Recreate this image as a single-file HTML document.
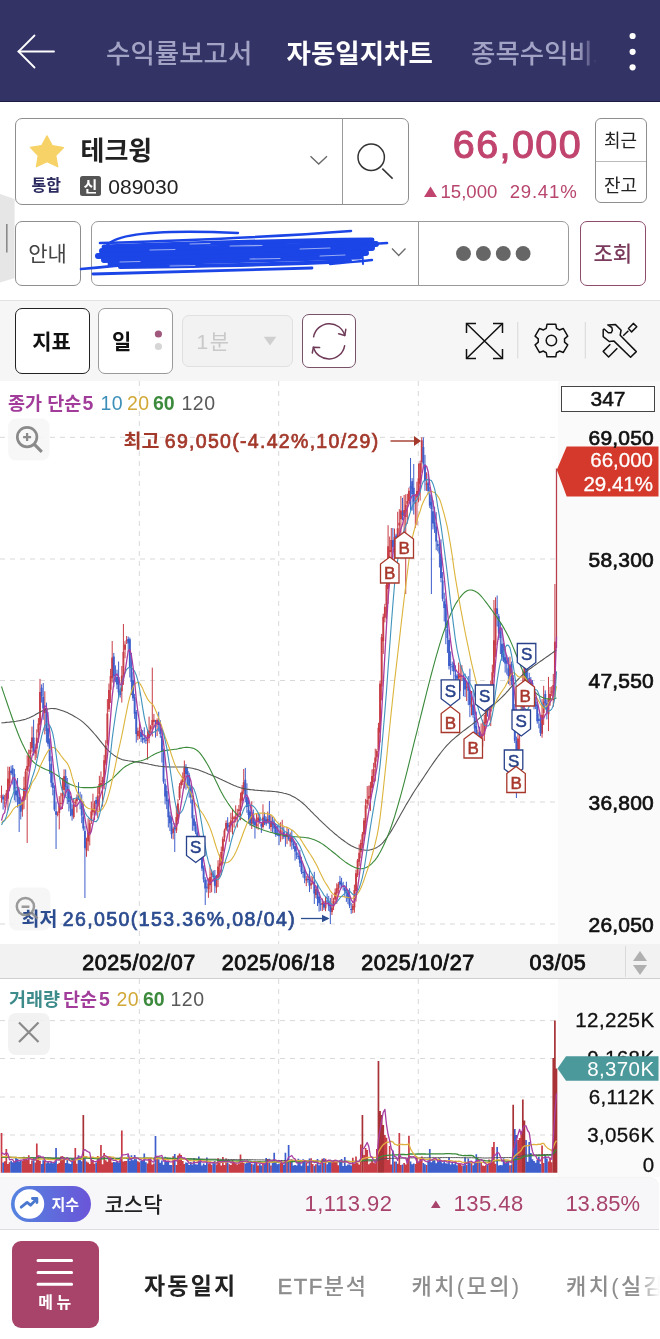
<!DOCTYPE html>
<html lang="ko"><head><meta charset="utf-8"><style>
*{margin:0;padding:0;box-sizing:border-box}
html,body{width:660px;height:1339px;overflow:hidden;background:#fff}
body{position:relative;font-family:"Liberation Sans","Noto Sans CJK KR",sans-serif;color:#222}
.a{position:absolute;white-space:nowrap;line-height:1}
.box{position:absolute;border:1.5px solid #8e8e8e;border-radius:7px;background:#fff}
svg{position:absolute;left:0;top:0;overflow:visible}
</style></head><body>
<div class="a" style="left:0;top:0;width:660px;height:102px;background:#333366;border-bottom:1.5px solid #1c1c40"></div>
<svg width="660" height="102"><g stroke="#fff" stroke-width="1.8" fill="none" stroke-linecap="round"><path d="M18.5 51.5H54"/><path d="M34.5 35.5L18.5 51.5L34.5 67.5"/></g><circle cx="632.6" cy="36" r="3.1" fill="#fff"/><circle cx="632.6" cy="51.8" r="3.1" fill="#fff"/><circle cx="632.6" cy="67.3" r="3.1" fill="#fff"/></svg>
<div class="a" style="left:106px;top:41.0px;font-size:26.5px;height:26.5px;color:#a3a3c6;font-weight:500;">수익률보고서</div>
<div class="a" style="left:286.5px;top:41.0px;font-size:26.5px;height:26.5px;color:#fff;font-weight:700;">자동일지차트</div>
<div class="a" style="left:471px;top:36px;width:126px;height:34px;overflow:hidden;-webkit-mask-image:linear-gradient(90deg,#000 85%,transparent 100%);"><div class="a" style="left:0;top:5.3px;font-size:26.5px;color:#a3a3c6;font-weight:500;">종목수익비교</div></div>
<div class="box" style="left:14.5px;top:117.5px;width:394px;height:87px;"></div>
<div class="a" style="left:342px;top:118px;width:1.2px;height:86px;background:#9a9a9a"></div>
<svg width="660" height="300"><path d="M47 135.8 L52.2 145.6 L63.6 147.6 L55.8 155.6 L57.8 166.8 L47 161.8 L36.4 166.8 L38.2 155.6 L30.3 147.4 L41.7 145.6 Z" fill="#f7d267" stroke="#f7d267" stroke-width="1.2" stroke-linejoin="round"/><path d="M310.5 156.3L318.7 164L327 156.3" stroke="#6a6a6a" stroke-width="1.4" fill="none"/><circle cx="371.2" cy="157.3" r="13.2" stroke="#333" stroke-width="1.5" fill="none"/><path d="M382.3 168.6L392.6 178.6" stroke="#333" stroke-width="1.5"/></svg>
<div class="a" style="left:31.5px;top:177.5px;font-size:16px;height:16px;color:#2b2b60;font-weight:700;">통합</div>
<div class="a" style="left:80.5px;top:137.5px;font-size:26px;height:26px;color:#222;font-weight:700;">테크윙</div>
<div class="a" style="left:80.3px;top:175.5px;width:20.5px;height:20.8px;background:#555;border-radius:2.5px"></div>
<div class="a" style="left:-109.5px;width:400px;text-align:center;top:178.5px;font-size:15px;height:15px;color:#fff;font-weight:700;">신</div>
<div class="a" style="left:108.3px;top:175.8px;font-size:21px;height:21px;color:#222;font-weight:400;">089030</div>
<div class="a" style="right:78px;top:124.8px;font-size:39.5px;height:39.5px;color:#c0446e;font-weight:400;letter-spacing:1.4px;-webkit-text-stroke:1.1px #c0446e;">66,000</div>
<svg width="660" height="300"><path d="M424 197L430.5 186.5L437 197Z" fill="#c0446e"/></svg>
<div class="a" style="left:440.5px;top:183.2px;font-size:18.6px;height:18.6px;color:#b8456e;font-weight:400;">15,000</div>
<div class="a" style="right:82.5px;top:183.2px;font-size:18.6px;height:18.6px;color:#b8456e;font-weight:400;letter-spacing:0.8px;">29.41%</div>
<div class="box" style="left:595px;top:118px;width:51.5px;height:84.5px;border-width:1.3px;border-radius:6px"></div>
<div class="a" style="left:596px;top:160.5px;width:49.5px;height:1.2px;background:#bbb"></div>
<div class="a" style="left:420.5px;width:400px;text-align:center;top:132.0px;font-size:18px;height:18px;color:#222;font-weight:400;">최근</div>
<div class="a" style="left:420.5px;width:400px;text-align:center;top:176.5px;font-size:18px;height:18px;color:#222;font-weight:400;">잔고</div>
<svg width="660" height="300"><path d="M0 194L14.6 199V278L0 282.6Z" fill="#e6e6e6"/><path d="M6.8 224V252.5" stroke="#8a8a8a" stroke-width="1.6"/></svg>
<div class="box" style="left:14.5px;top:220.5px;width:66px;height:65px;"></div>
<div class="a" style="left:-152.5px;width:400px;text-align:center;top:242.5px;font-size:21px;height:21px;color:#444;font-weight:400;">안내</div>
<div class="box" style="left:91px;top:220.5px;width:477.5px;height:65px;border-color:#9a9a9a"></div>
<div class="a" style="left:417.5px;top:221px;width:1.3px;height:64px;background:#9a9a9a"></div>
<svg width="660" height="300"><path d="M392 248.5L398.7 255.5L405.5 248.5" stroke="#6a6a6a" stroke-width="1.3" fill="none"/><g fill="#666"><circle cx="463.5" cy="253.5" r="7.4"/><circle cx="483.4" cy="253.5" r="7.4"/><circle cx="503.3" cy="253.5" r="7.4"/><circle cx="523.1" cy="253.5" r="7.4"/></g></svg>
<div class="box" style="left:580px;top:220.5px;width:65.5px;height:65px;border-color:#8c4d6c"></div>
<div class="a" style="left:412.79999999999995px;width:400px;text-align:center;top:242.5px;font-size:21px;height:21px;color:#7a3a5c;font-weight:500;">조회</div>
<svg width="660" height="300"><g stroke="#1b45e6" fill="none" stroke-linecap="round" stroke-linejoin="round">
<path d="M106 247 C112 235 150 229 238 233" stroke-width="2.4"/>
<path d="M100 243 C200 240 300 235 351 231" stroke-width="2.6"/>
<path d="M104 247 C180 244 280 241 372 240" stroke-width="5"/>
<path d="M102 251 C190 249 290 246 376 244" stroke-width="6"/>
<path d="M98 256 C190 253 290 250 372 248" stroke-width="6"/>
<path d="M104 260 C190 258 290 255 366 253" stroke-width="6"/>
<path d="M110 264 C200 262 290 259 360 257" stroke-width="5"/>
<path d="M120 267 C200 266 290 264 350 261" stroke-width="4"/>
<path d="M81 269 C150 262 250 257 345 253" stroke-width="2.6"/>
<path d="M93 274 C180 272 260 270 312 268" stroke-width="2.8"/>
<path d="M330 264 C350 262 365 261 372 260" stroke-width="2.4"/>
<path d="M340 246 L387 243" stroke-width="2.6"/>
<path d="M362 244 L363 264" stroke-width="2"/>
</g>
<g stroke="#ffffff" stroke-opacity="0.55" fill="none" stroke-linecap="round" stroke-width="1.1">
<path d="M150 250 L175 249.5"/><path d="M230 246 L262 245.5"/><path d="M300 249 L330 248"/>
<path d="M120 262 L140 261.5"/><path d="M250 259 L280 258.5"/><path d="M190 244 L210 243.5"/>
<path d="M320 256 L345 255"/><path d="M170 266 L195 265.5"/>
</g></svg>
<div class="a" style="left:0;top:299.5px;width:660px;height:81px;background:#f6f6f6;border-top:1.2px solid #e2e2e2"></div>
<div class="box" style="left:14.5px;top:307.5px;width:75px;height:66px;border-color:#222;border-width:1.6px"></div>
<div class="a" style="left:-148.5px;width:400px;text-align:center;top:330.5px;font-size:21px;height:21px;color:#111;font-weight:700;">지표</div>
<div class="box" style="left:98px;top:307.5px;width:74.5px;height:66px;border-color:#9a9a9a"></div>
<div class="a" style="left:112px;top:330.5px;font-size:21px;height:21px;color:#111;font-weight:700;">일</div>
<svg width="660" height="400"><circle cx="158.4" cy="334" r="3.6" fill="#a0587c"/><circle cx="158.4" cy="346.5" r="3.6" fill="#d6d6d6"/></svg>
<div class="box" style="left:182px;top:314.5px;width:110.5px;height:52.5px;border-color:#e0e0e0;background:#f2f2f2;border-width:1.2px"></div>
<div class="a" style="left:196.5px;top:330.5px;font-size:21px;height:21px;color:#c9c9c9;font-weight:400;letter-spacing:1.5px;">1분</div>
<svg width="660" height="400"><path d="M263.7 336.8H276.3L270 345.4Z" fill="#cfcfcf"/></svg>
<div class="box" style="left:302px;top:313.5px;width:54px;height:54px;border-color:#775168"></div>
<svg width="660" height="400"><g stroke="#6e3a58" stroke-width="1.5" fill="none" stroke-linecap="round" stroke-linejoin="round"><path d="M313.6 336.8 A16 16 0 0 1 344.8 335.5"/><path d="M345.8 329.3 L344.8 335.5 L338.6 333.8"/><path d="M344.6 345.8 A16 16 0 0 1 313.4 347.2"/><path d="M312.3 353 L313.4 347.2 L319.6 347.6"/></g></svg>
<svg width="660" height="400"><g stroke="#111" stroke-width="1.5" fill="none"><path d="M466.5 323.5L502.5 358.5M502.5 323.5L466.5 358.5"/><path d="M466.5 333V323.5H476M493 323.5H502.5V333M502.5 349V358.5H493M476 358.5H466.5V349"/></g><path d="M517.7 322V358.5M585.3 322V358.5" stroke="#dcdcdc" stroke-width="1.2"/></svg>
<svg width="660" height="400"><path d="M546.24 328.35L547.03 324.18L555.77 324.18L556.56 328.35A13.2 13.2 0 0 1 559.34 329.96L563.35 328.55L567.72 336.13L564.50 338.89A13.2 13.2 0 0 1 564.50 342.11L567.72 344.87L563.35 352.45L559.34 351.04A13.2 13.2 0 0 1 556.56 352.65L555.77 356.82L547.03 356.82L546.24 352.65A13.2 13.2 0 0 1 543.46 351.04L539.45 352.45L535.08 344.87L538.30 342.11A13.2 13.2 0 0 1 538.30 338.89L535.08 336.13L539.45 328.55L543.46 329.96A13.2 13.2 0 0 1 546.24 328.35Z" stroke="#111" stroke-width="1.5" fill="none" stroke-linejoin="round"/><circle cx="551.4" cy="340.5" r="5.2" stroke="#111" stroke-width="1.5" fill="none"/></svg>
<svg width="660" height="400"><g stroke="#111" stroke-width="1.5" fill="none" stroke-linejoin="round"><path d="M607.8 324.9 L615.5 324.6 L621.1 330.2 L620.2 335.2 L636.3 351.6 L630.6 357.3 L614 341.1 L609.2 341.5 L603.2 336.6 L603.2 329.8 L604.1 329 L608.3 332.7 L611.3 332.7 L612.4 330.3 L611.8 327.5 Z"/><path d="M610.3 344.2 L603.2 351.4 L608.6 357 L617.3 348.2"/><path d="M623.2 335.8 L628.4 330.8"/><path d="M628.5 328.5 L633.3 323.4 L636.8 326.8 L631.6 331.9 Z"/></g></svg>
<div class="a" style="left:558px;top:380.5px;width:102px;height:564px;background:#fafafa"></div>
<div class="a" style="left:558px;top:979px;width:102px;height:198px;background:#fafafa"></div>
<div class="a" style="left:0;top:944px;width:660px;height:35px;background:#f2f2f2;border-bottom:1.3px solid #d0d0d0"></div>
<div class="a" style="left:625px;top:946px;width:1px;height:31px;background:#dadada"></div>
<svg width="660" height="1339">
<path d="M0 437.3H558M0 559H558M0 680.5H558M0 802H558M0 924H558M0 1020.6H558M0 1058.5H558M0 1097H558M0 1135H558M139.3 381V944M139.3 979V1173M278.7 381V944M278.7 979V1173M418.3 381V944M418.3 979V1173" stroke="#d9d9d9" stroke-width="1" stroke-dasharray="5 5" fill="none"/>
<path d="M1.52 785.6V802.7M4.72 794.9V807.5M6.33 789.9V802.8M7.93 766.6V810.6M9.54 766.8V791.0M22.37 796.4V816.7M23.97 776.7V808.9M25.58 768.7V799.7M27.18 755.2V843.0M28.78 749.6V771.7M30.39 742.0V764.0M31.99 726.5V752.3M35.20 743.7V760.2M36.80 729.3V758.0M38.41 718.1V742.7M40.01 678.9V730.0M44.82 691.3V734.4M57.66 811.4V816.4M59.26 796.2V829.4M60.86 792.8V809.7M62.47 778.0V809.0M64.07 769.3V798.3M73.70 798.6V818.8M75.30 799.3V806.9M76.90 794.5V812.6M86.53 837.7V856.8M88.13 818.3V851.1M89.74 819.5V845.5M91.34 801.6V824.0M92.94 793.7V815.5M94.55 800.8V820.2M97.76 786.7V818.2M99.36 775.8V811.2M100.96 771.4V788.5M102.57 776.8V806.6M104.17 754.9V789.2M105.78 740.2V765.2M107.38 699.1V745.4M108.98 683.5V712.0M110.59 668.8V702.9M112.19 641.0V682.5M121.82 666.0V702.6M123.42 624.0V684.9M125.02 641.1V658.2M126.63 636.0V644.0M137.86 727.6V740.2M139.46 721.6V738.8M147.48 729.8V759.7M149.08 716.6V743.2M150.69 724.8V733.0M152.29 667.6V736.5M153.90 713.9V727.5M157.10 718.3V736.1M173.14 826.5V839.3M176.35 806.1V833.0M177.96 799.3V824.0M179.56 783.1V800.0M181.16 779.6V788.6M182.77 772.4V785.0M184.37 760.5V788.3M208.43 878.3V897.8M210.04 864.7V893.1M211.64 869.6V892.3M216.45 874.9V892.9M218.06 860.2V887.0M219.66 854.5V877.4M221.26 846.6V875.2M222.87 836.6V864.4M224.47 828.6V841.7M226.08 820.4V831.0M229.28 822.2V841.8M230.89 812.8V832.2M232.49 809.0V834.5M234.10 815.8V827.6M235.70 805.3V822.4M237.30 808.8V827.5M238.91 805.0V817.4M240.51 792.6V820.2M242.12 785.0V803.4M243.72 769.0V794.3M251.74 801.4V829.0M256.55 813.2V828.5M258.16 813.1V829.7M262.97 804.3V828.6M267.78 811.5V823.3M270.99 815.2V831.3M280.61 822.2V841.8M282.22 819.8V839.4M287.03 826.9V844.1M290.24 832.5V846.6M306.28 875.8V886.2M311.09 875.7V889.2M312.69 876.8V884.4M315.90 885.1V898.1M322.32 898.5V911.1M325.52 897.0V911.2M331.94 894.5V915.1M333.54 897.8V910.1M335.15 888.5V903.0M336.75 883.3V903.9M338.36 882.0V895.0M352.79 903.8V913.2M354.40 884.6V912.7M356.00 869.8V901.6M357.60 858.9V877.1M359.21 844.5V866.2M360.81 839.6V858.3M362.42 831.9V848.6M364.02 818.0V841.0M365.62 798.9V834.1M367.23 786.1V808.7M368.83 785.6V805.6M370.44 781.8V810.9M372.04 769.4V792.2M373.64 762.8V782.1M375.25 748.7V781.4M376.85 749.2V761.7M378.46 722.8V751.7M380.06 680.7V742.3M381.66 633.9V700.4M383.27 613.7V653.9M384.87 603.8V622.4M386.48 575.6V619.2M388.08 525.2V603.8M389.68 536.5V557.5M391.29 528.0V559.3M394.50 528.6V567.9M397.70 511.8V553.5M399.31 509.2V538.2M400.91 496.0V542.3M404.12 494.9V533.7M405.72 494.3V594.0M407.33 493.8V523.7M408.93 487.7V503.8M415.35 493.9V527.9M416.95 481.7V525.2M418.56 463.5V502.3M420.16 460.6V500.6M421.76 437.3V472.8M426.58 472.3V490.9M458.66 662.6V695.8M460.26 665.0V691.2M461.86 665.1V681.1M466.68 681.4V701.0M471.49 691.0V715.4M477.90 729.7V737.6M481.11 723.4V753.1M482.72 719.7V746.5M484.32 714.9V741.0M485.92 705.3V728.5M489.13 702.3V720.4M490.74 680.8V726.1M492.34 664.6V687.7M493.94 600.0V677.6M495.55 597.3V657.2M509.98 656.6V685.7M518.00 732.6V757.4M519.61 710.9V749.4M521.21 691.3V731.8M522.82 670.9V722.6M524.42 657.7V695.4M542.06 699.0V737.7M543.67 685.8V725.0M548.48 676.9V731.1M550.08 687.0V705.7M551.69 686.3V696.1M553.29 673.9V706.8M554.90 584.0V697.0" stroke="#c83c46" stroke-width="1.0" fill="none"/>
<path d="M0.57 795.1h1.9V798.1h-1.9ZM3.77 802.4h1.9V803.4h-1.9ZM5.38 793.2h1.9V800.9h-1.9ZM6.98 778.8h1.9V798.7h-1.9ZM8.59 771.0h1.9V783.1h-1.9ZM21.42 799.8h1.9V810.1h-1.9ZM23.02 787.7h1.9V801.1h-1.9ZM24.63 771.5h1.9V789.9h-1.9ZM26.23 766.1h1.9V770.4h-1.9ZM27.83 755.5h1.9V766.7h-1.9ZM29.44 750.0h1.9V754.0h-1.9ZM31.04 737.4h1.9V748.2h-1.9ZM34.25 750.0h1.9V753.4h-1.9ZM35.85 737.7h1.9V748.6h-1.9ZM37.46 723.4h1.9V732.2h-1.9ZM39.06 691.9h1.9V725.0h-1.9ZM43.87 708.1h1.9V713.0h-1.9ZM56.71 813.5h1.9V814.7h-1.9ZM58.31 805.6h1.9V812.9h-1.9ZM59.91 802.9h1.9V803.9h-1.9ZM61.52 793.2h1.9V796.6h-1.9ZM63.12 776.2h1.9V789.9h-1.9ZM72.75 805.0h1.9V816.9h-1.9ZM74.35 801.7h1.9V803.2h-1.9ZM75.95 797.8h1.9V801.2h-1.9ZM85.58 841.7h1.9V850.2h-1.9ZM87.18 832.2h1.9V841.6h-1.9ZM88.79 823.2h1.9V833.6h-1.9ZM90.39 811.4h1.9V820.5h-1.9ZM91.99 808.8h1.9V812.3h-1.9ZM93.60 803.3h1.9V809.1h-1.9ZM96.81 795.4h1.9V806.5h-1.9ZM98.41 784.1h1.9V793.9h-1.9ZM100.01 783.1h1.9V785.5h-1.9ZM101.62 780.2h1.9V782.2h-1.9ZM103.22 760.3h1.9V782.4h-1.9ZM104.83 745.6h1.9V763.3h-1.9ZM106.43 713.4h1.9V743.5h-1.9ZM108.03 690.1h1.9V709.3h-1.9ZM109.64 675.9h1.9V689.7h-1.9ZM111.24 657.6h1.9V678.3h-1.9ZM120.87 675.8h1.9V691.3h-1.9ZM122.47 652.0h1.9V676.6h-1.9ZM124.07 644.4h1.9V649.8h-1.9ZM125.68 640.1h1.9V641.1h-1.9ZM136.91 730.9h1.9V736.2h-1.9ZM138.51 730.4h1.9V731.4h-1.9ZM146.53 736.9h1.9V740.7h-1.9ZM148.13 730.5h1.9V737.7h-1.9ZM149.74 726.3h1.9V729.5h-1.9ZM151.34 720.1h1.9V725.3h-1.9ZM152.95 719.7h1.9V722.1h-1.9ZM156.15 720.0h1.9V724.6h-1.9ZM172.19 828.6h1.9V833.0h-1.9ZM175.40 817.0h1.9V830.5h-1.9ZM177.01 803.6h1.9V820.8h-1.9ZM178.61 786.3h1.9V797.8h-1.9ZM180.21 781.4h1.9V785.6h-1.9ZM181.82 776.9h1.9V782.1h-1.9ZM183.42 767.9h1.9V776.9h-1.9ZM207.48 883.5h1.9V889.0h-1.9ZM209.09 876.9h1.9V885.3h-1.9ZM210.69 873.1h1.9V875.1h-1.9ZM215.50 876.4h1.9V887.5h-1.9ZM217.11 866.6h1.9V877.8h-1.9ZM218.71 863.6h1.9V866.3h-1.9ZM220.31 852.1h1.9V865.2h-1.9ZM221.92 838.7h1.9V851.3h-1.9ZM223.52 830.4h1.9V837.6h-1.9ZM225.13 823.1h1.9V829.4h-1.9ZM228.33 825.0h1.9V827.0h-1.9ZM229.94 820.4h1.9V825.3h-1.9ZM231.54 817.2h1.9V819.3h-1.9ZM233.15 817.5h1.9V818.7h-1.9ZM234.75 816.8h1.9V819.5h-1.9ZM236.35 813.8h1.9V815.9h-1.9ZM237.96 809.4h1.9V811.0h-1.9ZM239.56 798.4h1.9V810.8h-1.9ZM241.17 791.6h1.9V800.7h-1.9ZM242.77 782.3h1.9V791.2h-1.9ZM250.79 815.0h1.9V824.1h-1.9ZM255.60 824.0h1.9V826.3h-1.9ZM257.21 817.6h1.9V821.5h-1.9ZM262.02 817.6h1.9V827.0h-1.9ZM266.83 818.7h1.9V821.3h-1.9ZM270.04 820.9h1.9V827.1h-1.9ZM279.66 830.5h1.9V833.9h-1.9ZM281.27 833.4h1.9V834.4h-1.9ZM286.08 832.2h1.9V836.9h-1.9ZM289.29 837.4h1.9V841.5h-1.9ZM305.33 878.8h1.9V880.5h-1.9ZM310.14 883.2h1.9V885.3h-1.9ZM311.74 881.9h1.9V882.9h-1.9ZM314.95 888.9h1.9V894.9h-1.9ZM321.37 903.1h1.9V904.5h-1.9ZM324.57 900.9h1.9V908.2h-1.9ZM330.99 907.6h1.9V911.9h-1.9ZM332.59 901.0h1.9V906.4h-1.9ZM334.20 892.6h1.9V899.4h-1.9ZM335.80 888.3h1.9V893.5h-1.9ZM337.41 884.2h1.9V889.2h-1.9ZM351.84 906.1h1.9V909.9h-1.9ZM353.45 889.9h1.9V907.4h-1.9ZM355.05 873.3h1.9V891.0h-1.9ZM356.65 860.6h1.9V874.9h-1.9ZM358.26 852.8h1.9V861.7h-1.9ZM359.86 842.9h1.9V852.2h-1.9ZM361.47 834.2h1.9V844.3h-1.9ZM363.07 820.5h1.9V834.4h-1.9ZM364.67 805.3h1.9V823.1h-1.9ZM366.28 799.9h1.9V803.8h-1.9ZM367.88 796.0h1.9V798.8h-1.9ZM369.49 785.4h1.9V797.3h-1.9ZM371.09 776.0h1.9V788.1h-1.9ZM372.69 769.0h1.9V776.3h-1.9ZM374.30 757.4h1.9V767.4h-1.9ZM375.90 751.0h1.9V757.2h-1.9ZM377.51 727.7h1.9V749.7h-1.9ZM379.11 683.8h1.9V732.8h-1.9ZM380.71 637.3h1.9V686.5h-1.9ZM382.32 616.8h1.9V641.2h-1.9ZM383.92 606.7h1.9V617.8h-1.9ZM385.53 585.1h1.9V604.9h-1.9ZM387.13 546.3h1.9V589.1h-1.9ZM388.73 550.1h1.9V552.1h-1.9ZM390.34 540.0h1.9V552.2h-1.9ZM393.55 536.9h1.9V550.8h-1.9ZM396.75 528.2h1.9V547.9h-1.9ZM398.36 522.8h1.9V525.6h-1.9ZM399.96 510.4h1.9V519.3h-1.9ZM403.17 509.9h1.9V516.1h-1.9ZM404.77 504.8h1.9V517.1h-1.9ZM406.38 501.0h1.9V503.8h-1.9ZM407.98 490.7h1.9V501.1h-1.9ZM414.40 502.1h1.9V503.4h-1.9ZM416.00 491.1h1.9V497.5h-1.9ZM417.61 478.2h1.9V495.6h-1.9ZM419.21 463.2h1.9V484.0h-1.9ZM420.81 440.3h1.9V462.0h-1.9ZM425.63 483.5h1.9V485.0h-1.9ZM457.71 673.7h1.9V678.5h-1.9ZM459.31 676.0h1.9V677.0h-1.9ZM460.91 675.6h1.9V676.6h-1.9ZM465.73 686.4h1.9V687.9h-1.9ZM470.54 704.3h1.9V707.3h-1.9ZM476.95 732.8h1.9V733.8h-1.9ZM480.16 734.6h1.9V742.5h-1.9ZM481.77 734.4h1.9V735.5h-1.9ZM483.37 721.8h1.9V734.4h-1.9ZM484.97 707.1h1.9V723.3h-1.9ZM488.18 708.0h1.9V710.3h-1.9ZM489.79 687.8h1.9V711.4h-1.9ZM491.39 672.2h1.9V686.1h-1.9ZM492.99 640.3h1.9V672.8h-1.9ZM494.60 608.0h1.9V645.3h-1.9ZM509.03 664.7h1.9V676.8h-1.9ZM517.05 738.6h1.9V755.6h-1.9ZM518.66 723.1h1.9V735.0h-1.9ZM520.26 709.2h1.9V720.3h-1.9ZM521.87 683.9h1.9V709.8h-1.9ZM523.47 667.1h1.9V684.7h-1.9ZM541.11 714.7h1.9V733.7h-1.9ZM542.72 701.7h1.9V713.1h-1.9ZM547.53 698.4h1.9V714.2h-1.9ZM549.13 694.0h1.9V701.3h-1.9ZM550.74 691.4h1.9V692.4h-1.9ZM552.34 685.0h1.9V700.0h-1.9ZM553.95 641.7h1.9V690.0h-1.9Z" fill="#c83c46"/>
<path d="M3.12 794.4V809.6M11.14 765.6V775.1M12.74 765.1V784.5M14.35 769.0V800.4M15.95 781.4V802.3M17.56 778.0V807.7M19.16 789.1V832.0M20.76 798.6V819.5M33.60 719.7V755.5M41.62 684.4V702.6M43.22 683.0V719.8M46.43 702.6V742.6M48.03 712.1V746.6M49.64 738.3V773.8M51.24 756.1V787.2M52.84 772.9V795.4M54.45 785.3V811.2M56.05 801.5V849.0M65.68 769.4V796.3M67.28 778.0V804.2M68.88 784.0V811.4M70.49 795.8V816.3M72.09 804.1V820.7M78.51 782.2V799.9M80.11 791.8V809.3M81.72 794.4V823.2M83.32 801.4V830.7M84.92 826.1V898.0M96.15 796.9V815.5M113.80 652.9V687.3M115.40 665.4V682.2M117.00 669.7V689.1M118.61 661.5V698.0M120.21 688.7V697.6M128.23 636.6V651.7M129.84 637.6V677.5M131.44 653.0V695.1M133.04 672.1V701.0M134.65 693.9V718.9M136.25 710.0V742.6M141.06 729.7V742.1M142.67 730.1V743.3M144.27 727.3V742.7M145.88 735.0V743.9M155.50 719.9V737.6M158.71 711.7V731.5M160.31 720.2V737.8M161.92 731.4V762.5M163.52 748.7V783.7M165.12 778.8V804.4M166.73 785.4V809.1M168.33 798.5V827.5M169.94 811.5V831.1M171.54 816.6V838.6M174.75 823.1V852.0M185.98 764.1V789.6M187.58 767.9V788.2M189.18 772.8V797.7M190.79 784.7V803.4M192.39 795.0V830.8M194.00 815.0V830.7M195.60 821.5V834.2M197.20 826.4V846.7M198.81 837.6V855.5M200.41 845.3V859.8M202.02 851.9V871.1M203.62 865.5V882.5M205.22 877.2V905.0M206.83 879.6V892.5M213.24 870.5V881.6M214.85 870.0V893.2M227.68 817.2V831.7M245.32 767.9V802.3M246.93 783.3V812.8M248.53 797.7V823.0M250.14 805.7V825.9M253.34 809.5V825.8M254.95 818.5V838.6M259.76 813.9V823.8M261.36 822.2V832.9M264.57 812.3V825.1M266.18 816.6V825.7M269.38 801.0V828.9M272.59 816.7V832.6M274.20 818.6V833.7M275.80 823.5V836.9M277.40 825.6V835.9M279.01 823.4V845.1M283.82 827.0V838.9M285.42 834.0V846.7M288.63 829.0V840.7M291.84 829.7V849.6M293.44 839.7V848.9M295.05 841.6V860.6M296.65 843.2V859.0M298.26 852.5V859.5M299.86 849.8V867.0M301.46 856.8V874.1M303.07 864.4V877.6M304.67 866.8V883.2M307.88 873.8V882.7M309.48 868.0V892.1M314.30 871.8V904.0M317.50 883.6V906.0M319.11 891.9V911.6M320.71 898.8V910.8M323.92 901.2V909.9M327.13 893.5V903.5M328.73 895.9V910.9M330.34 898.0V924.0M339.96 875.9V887.9M341.56 877.8V887.2M343.17 881.8V890.4M344.77 885.1V896.9M346.38 881.7V901.9M347.98 889.7V904.1M349.58 888.2V908.1M351.19 902.8V913.8M392.89 528.0V568.6M396.10 533.7V558.4M402.52 497.8V520.2M410.54 458.0V510.7M412.14 478.1V510.6M413.74 464.0V514.5M423.37 437.3V466.9M424.97 454.9V490.8M428.18 474.0V494.5M429.78 487.0V507.9M431.39 495.9V594.0M432.99 500.4V529.4M434.60 506.8V532.9M436.20 512.1V550.2M437.80 540.4V551.4M439.41 537.5V567.5M441.01 539.3V582.3M442.62 572.1V601.3M444.22 592.7V621.5M445.82 598.6V644.2M447.43 620.6V652.9M449.03 638.0V669.5M450.64 651.4V674.8M452.24 661.6V671.2M453.84 659.0V679.6M455.45 665.4V692.3M457.05 673.6V682.1M463.47 674.3V696.2M465.07 673.6V697.1M468.28 676.0V705.2M469.88 668.7V717.1M473.09 690.4V717.7M474.70 704.7V743.1M476.30 711.6V742.9M479.51 726.8V750.1M487.53 700.6V716.6M497.15 595.5V626.5M498.76 613.9V639.9M500.36 622.9V654.0M501.96 627.6V661.0M503.57 642.8V662.2M505.17 648.3V672.6M506.78 655.2V674.5M508.38 657.3V684.1M511.59 661.5V685.4M513.19 675.0V725.7M514.80 703.9V743.0M516.40 736.6V798.0M526.02 656.1V689.7M527.63 666.6V689.9M529.23 672.8V686.4M530.84 677.0V695.8M532.44 680.2V698.9M534.04 686.9V709.3M535.65 696.9V709.2M537.25 701.7V723.7M538.86 713.5V728.3M540.46 715.0V736.1M545.27 690.4V706.3M546.88 699.6V719.4" stroke="#3d5ecb" stroke-width="1.0" fill="none"/>
<path d="M2.17 796.6h1.9V799.4h-1.9ZM10.19 770.6h1.9V773.0h-1.9ZM11.79 768.2h1.9V774.2h-1.9ZM13.40 774.1h1.9V790.4h-1.9ZM15.00 790.6h1.9V795.3h-1.9ZM16.61 790.7h1.9V797.0h-1.9ZM18.21 797.1h1.9V804.0h-1.9ZM19.81 803.6h1.9V811.7h-1.9ZM32.65 737.6h1.9V752.2h-1.9ZM40.67 687.8h1.9V696.6h-1.9ZM42.27 696.9h1.9V708.6h-1.9ZM45.48 708.0h1.9V730.9h-1.9ZM47.08 728.2h1.9V743.8h-1.9ZM48.69 740.6h1.9V761.2h-1.9ZM50.29 763.7h1.9V782.7h-1.9ZM51.89 782.7h1.9V788.3h-1.9ZM53.50 789.4h1.9V809.4h-1.9ZM55.10 811.2h1.9V814.8h-1.9ZM64.73 776.1h1.9V786.9h-1.9ZM66.33 786.5h1.9V790.4h-1.9ZM67.93 791.2h1.9V801.7h-1.9ZM69.54 801.5h1.9V808.5h-1.9ZM71.14 808.8h1.9V815.4h-1.9ZM77.56 794.6h1.9V797.2h-1.9ZM79.16 799.1h1.9V801.4h-1.9ZM80.77 801.5h1.9V815.6h-1.9ZM82.37 816.5h1.9V828.4h-1.9ZM83.97 831.0h1.9V848.3h-1.9ZM95.20 800.1h1.9V803.8h-1.9ZM112.85 656.6h1.9V676.4h-1.9ZM114.45 674.7h1.9V675.7h-1.9ZM116.05 677.1h1.9V684.5h-1.9ZM117.66 677.1h1.9V692.4h-1.9ZM119.26 690.7h1.9V695.1h-1.9ZM127.28 639.1h1.9V643.3h-1.9ZM128.89 639.2h1.9V667.7h-1.9ZM130.49 667.7h1.9V682.1h-1.9ZM132.09 680.3h1.9V698.3h-1.9ZM133.70 697.3h1.9V713.8h-1.9ZM135.30 712.1h1.9V734.0h-1.9ZM140.11 731.7h1.9V737.1h-1.9ZM141.72 738.3h1.9V739.9h-1.9ZM143.32 737.9h1.9V738.9h-1.9ZM144.93 739.8h1.9V740.8h-1.9ZM154.55 725.1h1.9V726.7h-1.9ZM157.76 721.3h1.9V724.9h-1.9ZM159.36 724.1h1.9V734.1h-1.9ZM160.97 735.9h1.9V751.6h-1.9ZM162.57 752.5h1.9V781.6h-1.9ZM164.17 783.7h1.9V796.6h-1.9ZM165.78 791.1h1.9V801.3h-1.9ZM167.38 800.1h1.9V817.3h-1.9ZM168.99 815.5h1.9V823.3h-1.9ZM170.59 823.1h1.9V834.3h-1.9ZM173.80 827.4h1.9V829.3h-1.9ZM185.03 767.2h1.9V773.9h-1.9ZM186.63 771.0h1.9V777.1h-1.9ZM188.23 775.1h1.9V785.7h-1.9ZM189.84 787.1h1.9V797.3h-1.9ZM191.44 799.4h1.9V818.3h-1.9ZM193.05 818.5h1.9V825.8h-1.9ZM194.65 824.3h1.9V832.1h-1.9ZM196.25 832.3h1.9V843.7h-1.9ZM197.86 843.3h1.9V850.2h-1.9ZM199.46 851.1h1.9V857.5h-1.9ZM201.07 857.7h1.9V868.6h-1.9ZM202.67 867.7h1.9V879.3h-1.9ZM204.27 879.6h1.9V888.5h-1.9ZM205.88 886.8h1.9V887.8h-1.9ZM212.29 873.7h1.9V877.1h-1.9ZM213.90 875.7h1.9V885.8h-1.9ZM226.73 822.9h1.9V827.6h-1.9ZM244.37 779.7h1.9V796.6h-1.9ZM245.98 797.1h1.9V807.1h-1.9ZM247.58 810.0h1.9V815.1h-1.9ZM249.19 811.5h1.9V823.2h-1.9ZM252.39 814.4h1.9V823.2h-1.9ZM254.00 821.6h1.9V825.3h-1.9ZM258.81 818.2h1.9V821.6h-1.9ZM260.41 824.0h1.9V826.6h-1.9ZM263.62 816.0h1.9V822.6h-1.9ZM265.23 819.3h1.9V823.7h-1.9ZM268.43 815.3h1.9V824.1h-1.9ZM271.64 820.4h1.9V824.7h-1.9ZM273.25 822.8h1.9V828.5h-1.9ZM274.85 826.1h1.9V835.1h-1.9ZM276.45 833.2h1.9V834.2h-1.9ZM278.06 833.4h1.9V836.2h-1.9ZM282.87 832.0h1.9V837.0h-1.9ZM284.47 835.6h1.9V836.6h-1.9ZM287.68 834.8h1.9V839.1h-1.9ZM290.89 836.5h1.9V842.6h-1.9ZM292.49 843.0h1.9V845.6h-1.9ZM294.10 845.9h1.9V851.5h-1.9ZM295.70 852.4h1.9V855.3h-1.9ZM297.31 855.7h1.9V857.1h-1.9ZM298.91 855.6h1.9V863.3h-1.9ZM300.51 861.3h1.9V871.7h-1.9ZM302.12 872.0h1.9V873.0h-1.9ZM303.72 870.6h1.9V878.4h-1.9ZM306.93 878.9h1.9V879.9h-1.9ZM308.53 877.3h1.9V885.7h-1.9ZM313.35 881.7h1.9V893.6h-1.9ZM316.55 886.9h1.9V899.1h-1.9ZM318.16 896.4h1.9V903.3h-1.9ZM319.76 903.7h1.9V904.7h-1.9ZM322.97 903.4h1.9V907.5h-1.9ZM326.18 900.6h1.9V901.6h-1.9ZM327.78 902.0h1.9V906.2h-1.9ZM329.39 905.0h1.9V911.8h-1.9ZM339.01 881.3h1.9V884.6h-1.9ZM340.61 883.0h1.9V885.5h-1.9ZM342.22 885.9h1.9V886.9h-1.9ZM343.82 888.0h1.9V891.2h-1.9ZM345.43 890.2h1.9V892.8h-1.9ZM347.03 892.5h1.9V898.5h-1.9ZM348.63 896.5h1.9V905.6h-1.9ZM350.24 909.0h1.9V910.0h-1.9ZM391.94 539.9h1.9V547.0h-1.9ZM395.15 535.5h1.9V545.2h-1.9ZM401.57 512.5h1.9V514.8h-1.9ZM409.59 486.3h1.9V488.3h-1.9ZM411.19 481.2h1.9V494.3h-1.9ZM412.79 487.7h1.9V501.7h-1.9ZM422.42 446.9h1.9V463.6h-1.9ZM424.02 464.5h1.9V480.6h-1.9ZM427.23 482.6h1.9V491.0h-1.9ZM428.83 494.6h1.9V505.5h-1.9ZM430.44 502.0h1.9V509.0h-1.9ZM432.04 511.3h1.9V523.6h-1.9ZM433.65 522.0h1.9V527.3h-1.9ZM435.25 526.8h1.9V541.6h-1.9ZM436.85 543.9h1.9V546.2h-1.9ZM438.46 546.8h1.9V553.6h-1.9ZM440.06 553.4h1.9V578.1h-1.9ZM441.67 580.4h1.9V598.7h-1.9ZM443.27 601.2h1.9V608.1h-1.9ZM444.87 603.9h1.9V627.9h-1.9ZM446.48 629.5h1.9V638.1h-1.9ZM448.08 640.0h1.9V666.1h-1.9ZM449.69 664.0h1.9V665.2h-1.9ZM451.29 666.2h1.9V667.2h-1.9ZM452.89 663.1h1.9V671.5h-1.9ZM454.50 675.4h1.9V676.4h-1.9ZM456.10 675.5h1.9V678.7h-1.9ZM462.52 677.2h1.9V680.9h-1.9ZM464.12 678.1h1.9V689.4h-1.9ZM467.33 682.7h1.9V690.8h-1.9ZM468.93 690.2h1.9V704.7h-1.9ZM472.14 704.8h1.9V714.9h-1.9ZM473.75 717.1h1.9V728.4h-1.9ZM475.35 726.0h1.9V735.6h-1.9ZM478.56 731.7h1.9V741.2h-1.9ZM486.58 706.8h1.9V710.3h-1.9ZM496.20 608.4h1.9V614.1h-1.9ZM497.81 616.2h1.9V633.4h-1.9ZM499.41 631.6h1.9V638.1h-1.9ZM501.01 643.8h1.9V656.9h-1.9ZM502.62 650.6h1.9V660.4h-1.9ZM504.22 657.3h1.9V663.5h-1.9ZM505.83 660.6h1.9V663.8h-1.9ZM507.43 668.3h1.9V675.9h-1.9ZM510.64 664.0h1.9V681.0h-1.9ZM512.24 677.8h1.9V714.2h-1.9ZM513.85 715.1h1.9V740.7h-1.9ZM515.45 741.0h1.9V757.2h-1.9ZM525.07 667.3h1.9V681.6h-1.9ZM526.68 681.2h1.9V682.7h-1.9ZM528.28 678.0h1.9V682.0h-1.9ZM529.89 682.1h1.9V685.5h-1.9ZM531.49 682.8h1.9V695.6h-1.9ZM533.09 695.7h1.9V700.3h-1.9ZM534.70 701.5h1.9V706.2h-1.9ZM536.30 704.6h1.9V721.3h-1.9ZM537.91 718.8h1.9V721.1h-1.9ZM539.51 723.5h1.9V732.9h-1.9ZM544.32 694.0h1.9V703.2h-1.9ZM545.93 703.0h1.9V712.5h-1.9Z" fill="#3d5ecb"/>
<path d="M556.50 468.5V648.0" stroke="#b4404e" stroke-width="1.3"/>
<path d="M1.5 722.9 L3.1 722.7 L4.7 722.6 L6.3 722.4 L7.9 722.2 L9.5 722.1 L11.1 721.9 L12.7 721.8 L14.3 721.5 L16.0 721.3 L17.6 721.0 L19.2 720.7 L20.8 720.4 L22.4 720.0 L24.0 719.6 L25.6 719.2 L27.2 718.6 L28.8 718.0 L30.4 717.3 L32.0 716.5 L33.6 715.7 L35.2 714.8 L36.8 713.8 L38.4 712.9 L40.0 712.1 L41.6 711.3 L43.2 710.6 L44.8 710.0 L46.4 709.4 L48.0 709.0 L49.6 708.7 L51.2 708.5 L52.8 708.5 L54.4 708.6 L56.1 708.8 L57.7 709.2 L59.3 709.7 L60.9 710.2 L62.5 710.7 L64.1 711.3 L65.7 711.9 L67.3 712.6 L68.9 713.4 L70.5 714.2 L72.1 715.1 L73.7 716.0 L75.3 716.9 L76.9 717.9 L78.5 718.9 L80.1 719.9 L81.7 721.1 L83.3 722.4 L84.9 723.8 L86.5 725.3 L88.1 726.9 L89.7 728.6 L91.3 730.4 L92.9 732.2 L94.5 734.0 L96.2 735.9 L97.8 737.9 L99.4 739.9 L101.0 741.9 L102.6 743.9 L104.2 745.9 L105.8 747.8 L107.4 749.5 L109.0 751.1 L110.6 752.6 L112.2 753.9 L113.8 755.1 L115.4 756.2 L117.0 757.2 L118.6 758.1 L120.2 758.8 L121.8 759.4 L123.4 759.9 L125.0 760.2 L126.6 760.5 L128.2 760.8 L129.8 761.0 L131.4 761.2 L133.0 761.4 L134.6 761.7 L136.3 761.9 L137.9 762.1 L139.5 762.3 L141.1 762.6 L142.7 762.9 L144.3 763.2 L145.9 763.5 L147.5 763.8 L149.1 764.2 L150.7 764.5 L152.3 764.9 L153.9 765.2 L155.5 765.6 L157.1 765.8 L158.7 766.1 L160.3 766.3 L161.9 766.5 L163.5 766.6 L165.1 766.8 L166.7 766.9 L168.3 766.9 L169.9 767.0 L171.5 767.0 L173.1 767.0 L174.7 767.0 L176.4 767.0 L178.0 767.0 L179.6 767.0 L181.2 767.0 L182.8 767.0 L184.4 767.1 L186.0 767.3 L187.6 767.5 L189.2 767.7 L190.8 768.0 L192.4 768.3 L194.0 768.7 L195.6 769.1 L197.2 769.6 L198.8 770.1 L200.4 770.7 L202.0 771.3 L203.6 771.9 L205.2 772.6 L206.8 773.2 L208.4 773.9 L210.0 774.5 L211.6 775.2 L213.2 775.9 L214.8 776.6 L216.5 777.3 L218.1 778.0 L219.7 778.8 L221.3 779.5 L222.9 780.3 L224.5 781.0 L226.1 781.8 L227.7 782.6 L229.3 783.3 L230.9 784.1 L232.5 784.8 L234.1 785.5 L235.7 786.1 L237.3 786.7 L238.9 787.2 L240.5 787.7 L242.1 788.1 L243.7 788.5 L245.3 788.9 L246.9 789.2 L248.5 789.4 L250.1 789.6 L251.7 789.8 L253.3 789.9 L254.9 790.1 L256.6 790.2 L258.2 790.4 L259.8 790.5 L261.4 790.6 L263.0 790.7 L264.6 790.9 L266.2 791.0 L267.8 791.1 L269.4 791.1 L271.0 791.2 L272.6 791.4 L274.2 791.5 L275.8 791.7 L277.4 791.9 L279.0 792.2 L280.6 792.5 L282.2 792.8 L283.8 793.2 L285.4 793.5 L287.0 794.0 L288.6 794.5 L290.2 795.1 L291.8 795.9 L293.4 796.7 L295.0 797.6 L296.7 798.6 L298.3 799.7 L299.9 800.9 L301.5 802.1 L303.1 803.5 L304.7 804.9 L306.3 806.4 L307.9 808.1 L309.5 809.7 L311.1 811.3 L312.7 812.9 L314.3 814.6 L315.9 816.1 L317.5 817.7 L319.1 819.3 L320.7 820.8 L322.3 822.4 L323.9 823.9 L325.5 825.4 L327.1 826.8 L328.7 828.3 L330.3 829.8 L331.9 831.2 L333.5 832.6 L335.1 834.0 L336.8 835.3 L338.4 836.7 L340.0 837.9 L341.6 839.2 L343.2 840.3 L344.8 841.5 L346.4 842.6 L348.0 843.7 L349.6 844.7 L351.2 845.7 L352.8 846.5 L354.4 847.3 L356.0 847.9 L357.6 848.5 L359.2 849.0 L360.8 849.4 L362.4 849.8 L364.0 850.0 L365.6 850.2 L367.2 850.3 L368.8 850.1 L370.4 849.8 L372.0 849.4 L373.6 848.8 L375.2 848.2 L376.9 847.4 L378.5 846.4 L380.1 845.2 L381.7 843.8 L383.3 842.1 L384.9 840.2 L386.5 838.1 L388.1 835.8 L389.7 833.5 L391.3 830.9 L392.9 828.3 L394.5 825.5 L396.1 822.7 L397.7 819.8 L399.3 816.9 L400.9 814.0 L402.5 811.2 L404.1 808.4 L405.7 805.6 L407.3 802.9 L408.9 800.2 L410.5 797.5 L412.1 794.9 L413.7 792.3 L415.3 789.8 L417.0 787.3 L418.6 784.9 L420.2 782.5 L421.8 780.1 L423.4 777.7 L425.0 775.3 L426.6 772.9 L428.2 770.5 L429.8 768.0 L431.4 765.7 L433.0 763.4 L434.6 761.1 L436.2 758.9 L437.8 756.7 L439.4 754.6 L441.0 752.5 L442.6 750.5 L444.2 748.5 L445.8 746.7 L447.4 744.9 L449.0 743.3 L450.6 741.7 L452.2 740.2 L453.8 738.8 L455.4 737.4 L457.1 736.0 L458.7 734.7 L460.3 733.4 L461.9 732.1 L463.5 730.9 L465.1 729.7 L466.7 728.5 L468.3 727.3 L469.9 726.1 L471.5 724.9 L473.1 723.6 L474.7 722.3 L476.3 721.0 L477.9 719.6 L479.5 718.1 L481.1 716.7 L482.7 715.2 L484.3 713.7 L485.9 712.2 L487.5 710.6 L489.1 709.1 L490.7 707.6 L492.3 706.1 L493.9 704.6 L495.5 703.2 L497.2 701.7 L498.8 700.2 L500.4 698.7 L502.0 697.1 L503.6 695.5 L505.2 693.8 L506.8 692.0 L508.4 690.3 L510.0 688.4 L511.6 686.6 L513.2 684.8 L514.8 683.0 L516.4 681.2 L518.0 679.5 L519.6 677.8 L521.2 676.2 L522.8 674.7 L524.4 673.3 L526.0 671.9 L527.6 670.6 L529.2 669.3 L530.8 668.2 L532.4 667.0 L534.0 665.9 L535.6 664.7 L537.3 663.6 L538.9 662.4 L540.5 661.3 L542.1 660.2 L543.7 659.0 L545.3 657.9 L546.9 656.8 L548.5 655.7 L550.1 654.5 L551.7 653.4 L553.3 652.3 L554.9 651.1 L556.5 650.0" stroke="#555555" stroke-width="1.1" fill="none" stroke-opacity="1.0" stroke-linejoin="round"/>
<path d="M1.5 686.5 L3.1 691.3 L4.7 696.1 L6.3 700.8 L7.9 705.5 L9.5 710.1 L11.1 714.7 L12.7 719.3 L14.3 723.8 L16.0 728.2 L17.6 732.5 L19.2 736.5 L20.8 740.2 L22.4 743.8 L24.0 747.1 L25.6 750.3 L27.2 753.2 L28.8 756.0 L30.4 758.4 L32.0 760.5 L33.6 762.2 L35.2 763.6 L36.8 764.7 L38.4 765.7 L40.0 766.6 L41.6 767.4 L43.2 768.2 L44.8 769.0 L46.4 769.7 L48.0 770.3 L49.6 771.0 L51.2 771.8 L52.8 772.6 L54.4 773.6 L56.1 774.6 L57.7 775.7 L59.3 776.9 L60.9 778.2 L62.5 779.4 L64.1 780.6 L65.7 781.7 L67.3 782.7 L68.9 783.6 L70.5 784.4 L72.1 785.1 L73.7 785.7 L75.3 786.2 L76.9 786.7 L78.5 787.0 L80.1 787.3 L81.7 787.5 L83.3 787.6 L84.9 787.6 L86.5 787.6 L88.1 787.6 L89.7 787.6 L91.3 787.6 L92.9 787.6 L94.5 787.4 L96.2 787.2 L97.8 786.8 L99.4 786.4 L101.0 785.9 L102.6 785.2 L104.2 784.5 L105.8 783.6 L107.4 782.6 L109.0 781.4 L110.6 780.2 L112.2 778.8 L113.8 777.3 L115.4 775.7 L117.0 774.1 L118.6 772.5 L120.2 770.8 L121.8 769.3 L123.4 767.9 L125.0 766.8 L126.6 765.7 L128.2 764.9 L129.8 764.1 L131.4 763.4 L133.0 762.8 L134.6 762.2 L136.3 761.7 L137.9 761.4 L139.5 761.0 L141.1 760.7 L142.7 760.3 L144.3 759.8 L145.9 759.1 L147.5 758.2 L149.1 757.4 L150.7 756.4 L152.3 755.4 L153.9 754.6 L155.5 753.8 L157.1 753.0 L158.7 752.4 L160.3 751.8 L161.9 751.3 L163.5 750.9 L165.1 750.6 L166.7 750.3 L168.3 750.1 L169.9 749.9 L171.5 749.7 L173.1 749.5 L174.7 749.3 L176.4 749.1 L178.0 748.8 L179.6 748.4 L181.2 748.1 L182.8 747.8 L184.4 747.5 L186.0 747.4 L187.6 747.4 L189.2 747.5 L190.8 747.7 L192.4 748.1 L194.0 748.6 L195.6 749.4 L197.2 750.5 L198.8 751.9 L200.4 753.7 L202.0 755.8 L203.6 758.1 L205.2 760.6 L206.8 763.3 L208.4 766.1 L210.0 769.0 L211.6 772.2 L213.2 775.4 L214.8 778.8 L216.5 782.3 L218.1 785.6 L219.7 788.9 L221.3 792.1 L222.9 795.0 L224.5 797.8 L226.1 800.3 L227.7 802.8 L229.3 805.1 L230.9 807.3 L232.5 809.4 L234.1 811.3 L235.7 813.1 L237.3 814.7 L238.9 816.1 L240.5 817.4 L242.1 818.6 L243.7 819.8 L245.3 821.0 L246.9 822.1 L248.5 823.1 L250.1 824.1 L251.7 825.1 L253.3 825.9 L254.9 826.7 L256.6 827.4 L258.2 828.1 L259.8 828.7 L261.4 829.3 L263.0 829.9 L264.6 830.5 L266.2 831.0 L267.8 831.5 L269.4 832.0 L271.0 832.4 L272.6 832.8 L274.2 833.3 L275.8 833.6 L277.4 834.0 L279.0 834.4 L280.6 834.7 L282.2 835.0 L283.8 835.3 L285.4 835.5 L287.0 835.8 L288.6 836.0 L290.2 836.2 L291.8 836.4 L293.4 836.5 L295.0 836.7 L296.7 836.8 L298.3 837.0 L299.9 837.1 L301.5 837.2 L303.1 837.3 L304.7 837.5 L306.3 837.7 L307.9 837.9 L309.5 838.3 L311.1 838.7 L312.7 839.2 L314.3 839.8 L315.9 840.5 L317.5 841.2 L319.1 842.0 L320.7 842.9 L322.3 843.9 L323.9 845.0 L325.5 846.2 L327.1 847.4 L328.7 848.7 L330.3 849.9 L331.9 851.2 L333.5 852.5 L335.1 853.8 L336.8 855.2 L338.4 856.5 L340.0 857.9 L341.6 859.1 L343.2 860.4 L344.8 861.6 L346.4 862.7 L348.0 863.8 L349.6 864.8 L351.2 865.7 L352.8 866.6 L354.4 867.3 L356.0 867.9 L357.6 868.3 L359.2 868.6 L360.8 868.7 L362.4 868.6 L364.0 868.3 L365.6 867.8 L367.2 867.0 L368.8 866.1 L370.4 864.8 L372.0 863.4 L373.6 861.7 L375.2 859.8 L376.9 857.6 L378.5 855.1 L380.1 852.3 L381.7 849.2 L383.3 845.9 L384.9 842.4 L386.5 838.8 L388.1 834.9 L389.7 830.9 L391.3 826.5 L392.9 821.8 L394.5 816.8 L396.1 811.5 L397.7 806.1 L399.3 800.5 L400.9 794.8 L402.5 788.9 L404.1 782.9 L405.7 776.7 L407.3 770.4 L408.9 763.9 L410.5 757.3 L412.1 750.8 L413.7 744.3 L415.3 737.8 L417.0 731.4 L418.6 724.9 L420.2 718.4 L421.8 712.0 L423.4 705.5 L425.0 699.1 L426.6 692.6 L428.2 686.3 L429.8 680.1 L431.4 674.0 L433.0 668.1 L434.6 662.2 L436.2 656.4 L437.8 650.8 L439.4 645.3 L441.0 640.1 L442.6 635.1 L444.2 630.5 L445.8 626.1 L447.4 622.0 L449.0 618.1 L450.6 614.3 L452.2 610.7 L453.8 607.4 L455.4 604.3 L457.1 601.6 L458.7 599.2 L460.3 597.1 L461.9 595.1 L463.5 593.4 L465.1 592.0 L466.7 591.0 L468.3 590.3 L469.9 590.0 L471.5 590.0 L473.1 590.4 L474.7 591.0 L476.3 591.9 L477.9 593.0 L479.5 594.4 L481.1 596.1 L482.7 598.0 L484.3 600.0 L485.9 602.1 L487.5 604.2 L489.1 606.4 L490.7 608.6 L492.3 610.8 L493.9 613.1 L495.5 615.3 L497.2 617.6 L498.8 620.0 L500.4 622.4 L502.0 624.9 L503.6 627.6 L505.2 630.4 L506.8 633.4 L508.4 636.6 L510.0 640.0 L511.6 643.6 L513.2 647.4 L514.8 651.3 L516.4 655.3 L518.0 659.4 L519.6 663.3 L521.2 667.2 L522.8 670.9 L524.4 674.5 L526.0 677.9 L527.6 681.1 L529.2 683.9 L530.8 686.5 L532.4 688.8 L534.0 690.9 L535.6 692.7 L537.3 694.2 L538.9 695.4 L540.5 696.4 L542.1 697.3 L543.7 698.0 L545.3 698.5 L546.9 698.8 L548.5 698.9 L550.1 699.0 L551.7 698.9 L553.3 698.7 L554.9 698.4 L556.5 698.0" stroke="#3a8a3a" stroke-width="1.1" fill="none" stroke-opacity="1.0" stroke-linejoin="round"/>
<path d="M1.5 823.0 L3.1 821.0 L4.7 820.2 L6.3 818.5 L7.9 816.9 L9.5 814.9 L11.1 812.6 L12.7 810.0 L14.3 808.2 L16.0 806.7 L17.6 806.2 L19.2 804.9 L20.8 804.7 L22.4 803.0 L24.0 800.5 L25.6 797.6 L27.2 794.5 L28.8 791.6 L30.4 787.0 L32.0 782.7 L33.6 780.5 L35.2 778.1 L36.8 774.8 L38.4 771.3 L40.0 767.0 L41.6 763.3 L43.2 760.1 L44.8 756.7 L46.4 753.8 L48.0 751.2 L49.6 749.4 L51.2 748.4 L52.8 747.2 L54.4 747.7 L56.1 749.0 L57.7 751.1 L59.3 753.1 L60.9 755.5 L62.5 757.6 L64.1 759.6 L65.7 761.3 L67.3 763.3 L68.9 766.5 L70.5 770.8 L72.1 776.9 L73.7 782.4 L75.3 787.0 L76.9 791.5 L78.5 794.8 L80.1 797.7 L81.7 800.4 L83.3 802.7 L84.9 805.7 L86.5 807.3 L88.1 808.2 L89.7 808.7 L91.3 809.0 L92.9 809.3 L94.5 809.8 L96.2 811.1 L97.8 811.6 L99.4 811.3 L101.0 810.3 L102.6 808.9 L104.2 806.1 L105.8 803.2 L107.4 798.8 L109.0 793.4 L110.6 787.3 L112.2 780.1 L113.8 773.2 L115.4 765.5 L117.0 757.3 L118.6 749.9 L120.2 743.0 L121.8 735.6 L123.4 727.7 L125.0 719.4 L126.6 711.3 L128.2 703.3 L129.8 696.9 L131.4 691.8 L133.0 687.5 L134.6 684.2 L136.3 682.9 L137.9 682.2 L139.5 683.0 L141.1 685.4 L142.7 688.6 L144.3 692.6 L145.9 695.8 L147.5 698.9 L149.1 701.2 L150.7 702.8 L152.3 704.1 L153.9 706.3 L155.5 710.0 L157.1 713.8 L158.7 718.1 L160.3 722.6 L161.9 726.8 L163.5 731.8 L165.1 736.7 L166.7 741.0 L168.3 745.2 L169.9 749.8 L171.5 755.0 L173.1 759.6 L174.7 764.1 L176.4 768.0 L178.0 771.2 L179.6 773.7 L181.2 776.2 L182.8 778.7 L184.4 781.1 L186.0 783.8 L187.6 786.4 L189.2 789.6 L190.8 793.3 L192.4 797.5 L194.0 801.2 L195.6 803.7 L197.2 806.1 L198.8 808.5 L200.4 810.5 L202.0 812.8 L203.6 815.0 L205.2 818.0 L206.8 821.0 L208.4 824.3 L210.0 827.9 L211.6 832.3 L213.2 837.1 L214.8 842.5 L216.5 847.9 L218.1 852.6 L219.7 856.9 L221.3 860.2 L222.9 862.3 L224.5 862.9 L226.1 862.8 L227.7 862.5 L229.3 861.6 L230.9 860.1 L232.5 858.1 L234.1 855.5 L235.7 852.4 L237.3 848.7 L238.9 844.8 L240.5 840.5 L242.1 836.2 L243.7 831.7 L245.3 827.7 L246.9 823.7 L248.5 820.7 L250.1 818.5 L251.7 816.1 L253.3 814.6 L254.9 813.9 L256.6 813.6 L258.2 813.4 L259.8 813.0 L261.4 813.1 L263.0 813.0 L264.6 813.3 L266.2 813.6 L267.8 813.7 L269.4 814.2 L271.0 814.8 L272.6 816.1 L274.2 817.9 L275.8 820.6 L277.4 822.4 L279.0 823.9 L280.6 824.7 L282.2 825.2 L283.8 826.3 L285.4 826.9 L287.0 827.3 L288.6 828.0 L290.2 829.0 L291.8 830.1 L293.4 831.0 L295.0 832.7 L296.7 834.3 L298.3 836.0 L299.9 838.2 L301.5 840.6 L303.1 843.2 L304.7 845.9 L306.3 848.4 L307.9 850.6 L309.5 853.2 L311.1 855.5 L312.7 858.1 L314.3 861.1 L315.9 863.7 L317.5 866.8 L319.1 870.4 L320.7 873.7 L322.3 877.0 L323.9 880.2 L325.5 883.0 L327.1 885.4 L328.7 888.0 L330.3 890.7 L331.9 892.9 L333.5 894.4 L335.1 895.4 L336.8 895.9 L338.4 896.2 L340.0 896.5 L341.6 896.5 L343.2 896.6 L344.8 897.1 L346.4 897.0 L348.0 897.5 L349.6 897.8 L351.2 898.1 L352.8 898.2 L354.4 897.5 L356.0 895.8 L357.6 893.8 L359.2 891.4 L360.8 888.3 L362.4 884.4 L364.0 880.0 L365.6 875.2 L367.2 870.6 L368.8 866.0 L370.4 861.0 L372.0 855.6 L373.6 849.8 L375.2 843.3 L376.9 836.3 L378.5 828.1 L380.1 817.3 L381.7 803.9 L383.3 789.3 L384.9 774.3 L386.5 759.1 L388.1 742.7 L389.7 727.2 L391.3 711.6 L392.9 696.8 L394.5 681.9 L396.1 668.1 L397.7 654.3 L399.3 640.4 L400.9 626.2 L402.5 612.6 L404.1 599.3 L405.7 586.1 L407.3 573.3 L408.9 560.3 L410.5 548.3 L412.1 538.8 L413.7 532.0 L415.3 526.3 L417.0 520.5 L418.6 515.2 L420.2 511.0 L421.8 505.5 L423.4 501.7 L425.0 498.4 L426.6 495.7 L428.2 493.0 L429.8 491.9 L431.4 491.2 L433.0 491.9 L434.6 492.5 L436.2 494.1 L437.8 496.1 L439.4 498.8 L441.0 503.1 L442.6 508.7 L444.2 514.4 L445.8 520.7 L447.4 527.5 L449.0 536.2 L450.6 545.6 L452.2 555.7 L453.8 567.3 L455.4 577.9 L457.1 587.8 L458.7 597.3 L460.3 606.6 L461.9 615.1 L463.5 623.7 L465.1 632.0 L466.7 639.9 L468.3 647.4 L469.9 655.3 L471.5 662.8 L473.1 669.7 L474.7 676.2 L476.3 682.6 L477.9 687.8 L479.5 692.9 L481.1 696.4 L482.7 699.8 L484.3 702.6 L485.9 704.4 L487.5 706.1 L489.1 707.5 L490.7 708.2 L492.3 708.1 L493.9 706.3 L495.5 702.7 L497.2 698.9 L498.8 696.2 L500.4 693.6 L502.0 691.2 L503.6 689.0 L505.2 686.5 L506.8 683.2 L508.4 680.2 L510.0 676.8 L511.6 673.8 L513.2 672.8 L514.8 673.1 L516.4 674.9 L518.0 676.5 L519.6 677.1 L521.2 677.2 L522.8 677.0 L524.4 676.7 L526.0 678.8 L527.6 682.5 L529.2 685.9 L530.8 688.5 L532.4 691.4 L534.0 693.6 L535.6 695.8 L537.3 698.7 L538.9 701.6 L540.5 704.5 L542.1 706.9 L543.7 708.0 L545.3 707.4 L546.9 706.0 L548.5 703.1 L550.1 700.8 L551.7 699.3 L553.3 698.1 L554.9 695.9 L556.5 686.2" stroke="#dcb43c" stroke-width="1.1" fill="none" stroke-opacity="1.0" stroke-linejoin="round"/>
<path d="M1.5 824.9 L3.1 821.8 L4.7 820.6 L6.3 816.4 L7.9 810.6 L9.5 804.8 L11.1 799.1 L12.7 795.4 L14.3 790.1 L16.0 787.3 L17.6 787.5 L19.2 787.9 L20.8 788.9 L22.4 789.5 L24.0 790.4 L25.6 790.5 L27.2 789.8 L28.8 787.9 L30.4 783.9 L32.0 778.1 L33.6 773.6 L35.2 768.2 L36.8 760.8 L38.4 753.2 L40.0 743.6 L41.6 736.1 L43.2 730.3 L44.8 725.6 L46.4 723.7 L48.0 724.3 L49.6 725.2 L51.2 728.5 L52.8 733.6 L54.4 742.2 L56.1 754.5 L57.7 766.1 L59.3 775.8 L60.9 785.3 L62.5 791.5 L64.1 794.8 L65.7 797.3 L67.3 798.1 L68.9 799.5 L70.5 799.4 L72.1 799.4 L73.7 798.6 L75.3 798.2 L76.9 797.7 L78.5 798.1 L80.1 800.6 L81.7 803.5 L83.3 807.3 L84.9 811.9 L86.5 815.3 L88.1 816.9 L89.7 818.8 L91.3 819.7 L92.9 820.8 L94.5 821.4 L96.2 821.7 L97.8 819.7 L99.4 815.2 L101.0 808.7 L102.6 802.5 L104.2 795.4 L105.8 787.6 L107.4 777.8 L109.0 765.9 L110.6 753.2 L112.2 738.6 L113.8 726.7 L115.4 715.8 L117.0 706.0 L118.6 697.2 L120.2 690.7 L121.8 683.7 L123.4 677.6 L125.0 673.0 L126.6 669.4 L128.2 668.0 L129.8 667.1 L131.4 667.7 L133.0 669.1 L134.6 671.3 L136.3 675.1 L137.9 680.7 L139.5 688.5 L141.1 697.8 L142.7 707.8 L144.3 717.3 L145.9 724.5 L147.5 730.0 L149.1 733.2 L150.7 734.4 L152.3 733.1 L153.9 731.9 L155.5 731.6 L157.1 729.8 L158.7 728.4 L160.3 727.9 L161.9 729.1 L163.5 733.5 L165.1 740.2 L166.7 747.7 L168.3 757.4 L169.9 767.7 L171.5 778.5 L173.1 789.4 L174.7 799.8 L176.4 808.1 L178.0 813.3 L179.6 813.8 L181.2 812.2 L182.8 809.8 L184.4 804.9 L186.0 799.9 L187.6 794.2 L189.2 789.9 L190.8 786.7 L192.4 786.9 L194.0 789.1 L195.6 793.7 L197.2 799.9 L198.8 807.2 L200.4 816.2 L202.0 825.6 L203.6 835.9 L205.2 846.2 L206.8 855.2 L208.4 861.7 L210.0 866.8 L211.6 870.9 L213.2 874.3 L214.8 877.8 L216.5 879.7 L218.1 879.5 L219.7 877.9 L221.3 874.3 L222.9 869.4 L224.5 864.1 L226.1 858.7 L227.7 854.1 L229.3 848.9 L230.9 842.4 L232.5 836.5 L234.1 831.6 L235.7 826.9 L237.3 823.1 L238.9 820.1 L240.5 816.9 L242.1 813.8 L243.7 809.2 L245.3 806.4 L246.9 805.1 L248.5 804.8 L250.1 805.4 L251.7 805.2 L253.3 806.2 L254.9 807.8 L256.6 810.3 L258.2 812.9 L259.8 816.9 L261.4 819.9 L263.0 820.9 L264.6 821.7 L266.2 821.7 L267.8 822.1 L269.4 822.2 L271.0 821.7 L272.6 821.8 L274.2 822.9 L275.8 824.2 L277.4 825.0 L279.0 826.8 L280.6 827.6 L282.2 828.6 L283.8 830.4 L285.4 831.7 L287.0 832.8 L288.6 834.2 L290.2 835.1 L291.8 835.9 L293.4 837.0 L295.0 838.6 L296.7 841.0 L298.3 843.4 L299.9 846.0 L301.5 849.6 L303.1 853.6 L304.7 857.5 L306.3 861.7 L307.9 865.3 L309.5 869.3 L311.1 872.5 L312.7 875.2 L314.3 878.8 L315.9 881.4 L317.5 884.1 L319.1 887.2 L320.7 889.8 L322.3 892.2 L323.9 895.1 L325.5 896.6 L327.1 898.4 L328.7 900.8 L330.3 902.7 L331.9 904.5 L333.5 904.7 L335.1 903.6 L336.8 902.0 L338.4 900.1 L340.0 897.8 L341.6 896.3 L343.2 894.8 L344.8 893.3 L346.4 891.4 L348.0 890.5 L349.6 891.0 L351.2 892.6 L352.8 894.4 L354.4 895.0 L356.0 893.9 L357.6 891.4 L359.2 888.0 L360.8 883.2 L362.4 877.3 L364.0 869.5 L365.6 859.5 L367.2 848.6 L368.8 837.6 L370.4 827.1 L372.0 817.4 L373.6 808.2 L375.2 798.7 L376.9 789.5 L378.5 778.8 L380.1 765.2 L381.7 748.4 L383.3 730.0 L384.9 711.1 L386.5 691.1 L388.1 668.1 L389.7 646.2 L391.3 624.5 L392.9 604.1 L394.5 585.0 L396.1 571.1 L397.7 560.2 L399.3 550.8 L400.9 541.2 L402.5 534.2 L404.1 530.5 L405.7 526.0 L407.3 522.1 L408.9 516.5 L410.5 511.6 L412.1 506.5 L413.7 503.9 L415.3 501.8 L417.0 499.9 L418.6 496.2 L420.2 491.5 L421.8 485.1 L423.4 481.3 L425.0 480.3 L426.6 479.9 L428.2 479.5 L429.8 479.9 L431.4 480.6 L433.0 483.9 L434.6 488.8 L436.2 496.6 L437.8 507.2 L439.4 516.2 L441.0 525.9 L442.6 537.5 L444.2 549.2 L445.8 561.4 L447.4 574.3 L449.0 588.6 L450.6 602.4 L452.2 614.9 L453.8 627.4 L455.4 639.7 L457.1 649.7 L458.7 657.2 L460.3 664.0 L461.9 668.8 L463.5 673.1 L465.1 675.4 L466.7 677.5 L468.3 679.9 L469.9 683.2 L471.5 686.0 L473.1 689.7 L474.7 695.1 L476.3 701.1 L477.9 706.8 L479.5 712.8 L481.1 717.4 L482.7 722.2 L484.3 725.3 L485.9 725.5 L487.5 726.1 L489.1 725.4 L490.7 721.4 L492.3 715.0 L493.9 705.8 L495.5 692.5 L497.2 680.4 L498.8 670.3 L500.4 661.9 L502.0 656.9 L503.6 651.9 L505.2 647.5 L506.8 645.1 L508.4 645.4 L510.0 647.9 L511.6 655.2 L513.2 665.2 L514.8 675.9 L516.4 687.8 L518.0 696.0 L519.6 702.3 L521.2 706.8 L522.8 708.9 L524.4 708.0 L526.0 709.7 L527.6 709.8 L529.2 706.6 L530.8 701.1 L532.4 694.9 L534.0 691.1 L535.6 689.4 L537.3 690.6 L538.9 694.3 L540.5 700.9 L542.1 704.2 L543.7 706.1 L545.3 708.2 L546.9 710.9 L548.5 711.2 L550.1 710.6 L551.7 709.1 L553.3 705.5 L554.9 697.6 L556.5 671.4" stroke="#3f93bd" stroke-width="1.1" fill="none" stroke-opacity="1.0" stroke-linejoin="round"/>
<path d="M1.5 820.7 L3.1 814.6 L4.7 812.6 L6.3 802.8 L7.9 793.8 L9.5 789.0 L11.1 783.7 L12.7 778.1 L14.3 777.5 L16.0 780.8 L17.6 786.0 L19.2 792.2 L20.8 799.7 L22.4 801.6 L24.0 800.1 L25.6 795.0 L27.2 787.4 L28.8 776.1 L30.4 766.2 L32.0 756.1 L33.6 752.3 L35.2 749.0 L36.8 745.5 L38.4 740.1 L40.0 731.0 L41.6 719.9 L43.2 711.7 L44.8 705.7 L46.4 707.2 L48.0 717.6 L49.6 730.5 L51.2 745.4 L52.8 761.4 L54.4 777.1 L56.1 791.3 L57.7 801.8 L59.3 806.3 L60.9 809.2 L62.5 806.0 L64.1 798.3 L65.7 792.9 L67.3 789.9 L68.9 789.7 L70.5 792.7 L72.1 800.6 L73.7 804.2 L75.3 806.5 L76.9 805.7 L78.5 803.4 L80.1 800.6 L81.7 802.8 L83.3 808.1 L84.9 818.2 L86.5 827.1 L88.1 833.2 L89.7 834.8 L91.3 831.4 L92.9 823.5 L94.5 815.8 L96.2 810.1 L97.8 804.5 L99.4 799.1 L101.0 793.9 L102.6 789.3 L104.2 780.6 L105.8 770.6 L107.4 756.5 L109.0 737.9 L110.6 717.0 L112.2 696.5 L113.8 682.7 L115.4 675.2 L117.0 674.0 L118.6 677.3 L120.2 684.8 L121.8 684.7 L123.4 679.9 L125.0 671.9 L126.6 661.5 L128.2 651.1 L129.8 649.5 L131.4 655.5 L133.0 666.3 L134.6 681.0 L136.3 699.2 L137.9 711.8 L139.5 721.5 L141.1 729.3 L142.7 734.5 L144.3 735.4 L145.9 737.2 L147.5 738.5 L149.1 737.1 L150.7 734.4 L152.3 730.7 L153.9 726.7 L155.5 724.7 L157.1 722.6 L158.7 722.3 L160.3 725.1 L161.9 731.5 L163.5 742.4 L165.1 757.7 L166.7 773.0 L168.3 789.7 L169.9 804.0 L171.5 814.6 L173.1 821.0 L174.7 826.6 L176.4 826.5 L178.0 822.6 L179.6 813.0 L181.2 803.5 L182.8 793.1 L184.4 783.2 L186.0 777.3 L187.6 775.5 L189.2 776.3 L190.8 780.4 L192.4 790.5 L194.0 800.9 L195.6 811.9 L197.2 823.5 L198.8 834.0 L200.4 841.9 L202.0 850.4 L203.6 859.9 L205.2 868.8 L206.8 876.4 L208.4 881.6 L210.0 883.2 L211.6 882.0 L213.2 879.7 L214.8 879.3 L216.5 877.9 L218.1 875.8 L219.7 873.9 L221.3 868.9 L222.9 859.5 L224.5 850.3 L226.1 841.6 L227.7 834.4 L229.3 829.0 L230.9 825.3 L232.5 822.7 L234.1 821.6 L235.7 819.4 L237.3 817.2 L238.9 815.0 L240.5 811.2 L242.1 806.0 L243.7 799.1 L245.3 795.6 L246.9 795.2 L248.5 798.5 L250.1 804.8 L251.7 811.4 L253.3 816.7 L254.9 820.4 L256.6 822.1 L258.2 821.0 L259.8 822.3 L261.4 823.0 L263.0 821.5 L264.6 821.2 L266.2 822.4 L267.8 821.9 L269.4 821.3 L271.0 822.0 L272.6 822.4 L274.2 823.4 L275.8 826.6 L277.4 828.6 L279.0 831.7 L280.6 832.9 L282.2 833.8 L283.8 834.2 L285.4 834.7 L287.0 833.9 L288.6 835.6 L290.2 836.4 L291.8 837.5 L293.4 839.4 L295.0 843.2 L296.7 846.5 L298.3 850.4 L299.9 854.6 L301.5 859.8 L303.1 864.0 L304.7 868.6 L306.3 872.9 L307.9 876.1 L309.5 878.9 L311.1 881.0 L312.7 881.7 L314.3 884.7 L315.9 886.7 L317.5 889.3 L319.1 893.3 L320.7 897.9 L322.3 899.8 L323.9 903.5 L325.5 903.9 L327.1 903.4 L328.7 903.7 L330.3 905.5 L331.9 905.5 L333.5 905.5 L335.1 903.8 L336.8 900.3 L338.4 894.7 L340.0 890.1 L341.6 887.0 L343.2 885.8 L344.8 886.4 L346.4 888.1 L348.0 890.9 L349.6 894.9 L351.2 899.5 L352.8 902.4 L354.4 901.9 L356.0 896.8 L357.6 887.9 L359.2 876.6 L360.8 863.9 L362.4 852.8 L364.0 842.2 L365.6 831.2 L367.2 820.6 L368.8 811.2 L370.4 801.4 L372.0 792.5 L373.6 785.3 L375.2 776.8 L376.9 767.8 L378.5 756.2 L380.1 737.8 L381.7 711.4 L383.3 683.3 L384.9 654.5 L386.5 625.9 L388.1 598.4 L389.7 581.0 L391.3 565.6 L392.9 553.7 L394.5 544.1 L396.1 543.8 L397.7 539.4 L399.3 536.0 L400.9 528.7 L402.5 524.3 L404.1 517.2 L405.7 512.6 L407.3 508.2 L408.9 504.3 L410.5 498.9 L412.1 495.8 L413.7 495.2 L415.3 495.4 L417.0 495.5 L418.6 493.5 L420.2 487.3 L421.8 475.0 L423.4 467.3 L425.0 465.2 L426.6 466.2 L428.2 471.8 L429.8 484.8 L431.4 493.9 L433.0 502.5 L434.6 511.3 L436.2 521.4 L437.8 529.6 L439.4 538.5 L441.0 549.4 L442.6 563.7 L444.2 577.0 L445.8 593.3 L447.4 610.2 L449.0 627.8 L450.6 641.1 L452.2 652.8 L453.8 661.5 L455.4 669.1 L457.1 671.6 L458.7 673.4 L460.3 675.2 L461.9 676.0 L463.5 677.0 L465.1 679.1 L466.7 681.7 L468.3 684.6 L469.9 690.4 L471.5 695.1 L473.1 700.2 L474.7 708.6 L476.3 717.6 L477.9 723.2 L479.5 730.6 L481.1 734.5 L482.7 735.7 L484.3 733.0 L485.9 727.8 L487.5 721.7 L489.1 716.3 L490.7 707.0 L492.3 697.1 L493.9 683.7 L495.5 663.3 L497.2 644.5 L498.8 633.6 L500.4 626.8 L502.0 630.1 L503.6 640.6 L505.2 650.5 L506.8 656.6 L508.4 664.1 L510.0 665.7 L511.6 669.8 L513.2 679.9 L514.8 695.3 L516.4 711.6 L518.0 726.4 L519.6 734.8 L521.2 733.8 L522.8 722.4 L524.4 704.4 L526.0 693.0 L527.6 684.9 L529.2 679.5 L530.8 679.8 L532.4 685.5 L534.0 689.2 L535.6 693.9 L537.3 701.8 L538.9 708.9 L540.5 716.4 L542.1 719.2 L543.7 718.3 L545.3 714.7 L546.9 713.0 L548.5 706.1 L550.1 702.0 L551.7 699.9 L553.3 696.3 L554.9 682.1 L556.5 636.7" stroke="#a93da0" stroke-width="1.3" fill="none" stroke-opacity="1.0" stroke-linejoin="round"/>
<path d="M0.67 1133.0h1.7V1172.7h-1.7ZM3.87 1161.3h1.7V1172.7h-1.7ZM5.48 1148.9h1.7V1172.7h-1.7ZM7.08 1164.1h1.7V1172.7h-1.7ZM8.69 1162.3h1.7V1172.7h-1.7ZM21.52 1161.0h1.7V1172.7h-1.7ZM23.12 1156.8h1.7V1172.7h-1.7ZM24.73 1157.9h1.7V1172.7h-1.7ZM26.33 1160.1h1.7V1172.7h-1.7ZM27.93 1155.3h1.7V1172.7h-1.7ZM29.54 1164.1h1.7V1172.7h-1.7ZM31.14 1160.4h1.7V1172.7h-1.7ZM34.35 1162.5h1.7V1172.7h-1.7ZM35.95 1143.5h1.7V1172.7h-1.7ZM37.56 1155.6h1.7V1172.7h-1.7ZM39.16 1160.8h1.7V1172.7h-1.7ZM43.97 1160.7h1.7V1172.7h-1.7ZM56.81 1164.0h1.7V1172.7h-1.7ZM58.41 1162.8h1.7V1172.7h-1.7ZM60.01 1156.6h1.7V1172.7h-1.7ZM61.62 1155.9h1.7V1172.7h-1.7ZM63.22 1157.3h1.7V1172.7h-1.7ZM72.85 1158.6h1.7V1172.7h-1.7ZM74.45 1148.0h1.7V1172.7h-1.7ZM76.05 1163.8h1.7V1172.7h-1.7ZM85.68 1161.6h1.7V1172.7h-1.7ZM87.28 1162.4h1.7V1172.7h-1.7ZM88.89 1163.9h1.7V1172.7h-1.7ZM90.49 1158.0h1.7V1172.7h-1.7ZM92.09 1160.0h1.7V1172.7h-1.7ZM93.70 1163.8h1.7V1172.7h-1.7ZM96.91 1156.1h1.7V1172.7h-1.7ZM98.51 1157.5h1.7V1172.7h-1.7ZM100.11 1145.0h1.7V1172.7h-1.7ZM101.72 1164.2h1.7V1172.7h-1.7ZM103.32 1153.0h1.7V1172.7h-1.7ZM104.93 1160.2h1.7V1172.7h-1.7ZM106.53 1161.8h1.7V1172.7h-1.7ZM108.13 1156.3h1.7V1172.7h-1.7ZM109.74 1158.9h1.7V1172.7h-1.7ZM111.34 1162.4h1.7V1172.7h-1.7ZM120.97 1130.5h1.7V1172.7h-1.7ZM122.57 1161.6h1.7V1172.7h-1.7ZM124.17 1161.1h1.7V1172.7h-1.7ZM125.78 1161.0h1.7V1172.7h-1.7ZM137.01 1161.2h1.7V1172.7h-1.7ZM138.61 1162.3h1.7V1172.7h-1.7ZM146.63 1163.6h1.7V1172.7h-1.7ZM148.23 1158.2h1.7V1172.7h-1.7ZM149.84 1159.9h1.7V1172.7h-1.7ZM151.44 1164.6h1.7V1172.7h-1.7ZM153.05 1163.6h1.7V1172.7h-1.7ZM156.25 1158.5h1.7V1172.7h-1.7ZM172.29 1156.2h1.7V1172.7h-1.7ZM175.50 1165.0h1.7V1172.7h-1.7ZM177.11 1155.6h1.7V1172.7h-1.7ZM178.71 1153.5h1.7V1172.7h-1.7ZM180.31 1155.1h1.7V1172.7h-1.7ZM181.92 1161.0h1.7V1172.7h-1.7ZM183.52 1164.0h1.7V1172.7h-1.7ZM207.58 1163.7h1.7V1172.7h-1.7ZM209.19 1163.3h1.7V1172.7h-1.7ZM210.79 1164.8h1.7V1172.7h-1.7ZM215.60 1164.4h1.7V1172.7h-1.7ZM217.21 1158.3h1.7V1172.7h-1.7ZM218.81 1161.6h1.7V1172.7h-1.7ZM220.41 1165.4h1.7V1172.7h-1.7ZM222.02 1157.0h1.7V1172.7h-1.7ZM223.62 1165.0h1.7V1172.7h-1.7ZM225.23 1158.5h1.7V1172.7h-1.7ZM228.43 1164.2h1.7V1172.7h-1.7ZM230.04 1165.1h1.7V1172.7h-1.7ZM231.64 1159.8h1.7V1172.7h-1.7ZM233.25 1162.5h1.7V1172.7h-1.7ZM234.85 1163.4h1.7V1172.7h-1.7ZM236.45 1164.6h1.7V1172.7h-1.7ZM238.06 1163.6h1.7V1172.7h-1.7ZM239.66 1154.4h1.7V1172.7h-1.7ZM241.27 1161.6h1.7V1172.7h-1.7ZM242.87 1162.8h1.7V1172.7h-1.7ZM250.89 1163.7h1.7V1172.7h-1.7ZM255.70 1161.2h1.7V1172.7h-1.7ZM257.31 1165.6h1.7V1172.7h-1.7ZM262.12 1162.8h1.7V1172.7h-1.7ZM266.93 1159.0h1.7V1172.7h-1.7ZM270.14 1165.6h1.7V1172.7h-1.7ZM279.76 1163.1h1.7V1172.7h-1.7ZM281.37 1162.8h1.7V1172.7h-1.7ZM286.18 1160.8h1.7V1172.7h-1.7ZM289.39 1159.5h1.7V1172.7h-1.7ZM305.43 1162.8h1.7V1172.7h-1.7ZM310.24 1158.3h1.7V1172.7h-1.7ZM311.84 1164.1h1.7V1172.7h-1.7ZM315.05 1164.2h1.7V1172.7h-1.7ZM321.47 1158.8h1.7V1172.7h-1.7ZM324.67 1158.8h1.7V1172.7h-1.7ZM331.09 1161.8h1.7V1172.7h-1.7ZM332.69 1160.1h1.7V1172.7h-1.7ZM334.30 1159.8h1.7V1172.7h-1.7ZM335.90 1160.8h1.7V1172.7h-1.7ZM337.51 1165.2h1.7V1172.7h-1.7ZM351.94 1157.8h1.7V1172.7h-1.7ZM353.55 1164.0h1.7V1172.7h-1.7ZM355.15 1156.5h1.7V1172.7h-1.7ZM356.75 1162.7h1.7V1172.7h-1.7ZM358.36 1164.4h1.7V1172.7h-1.7ZM359.96 1144.5h1.7V1172.7h-1.7ZM363.17 1154.9h1.7V1172.7h-1.7ZM364.77 1148.0h1.7V1172.7h-1.7ZM366.38 1150.0h1.7V1172.7h-1.7ZM367.98 1164.2h1.7V1172.7h-1.7ZM369.59 1162.8h1.7V1172.7h-1.7ZM371.19 1160.6h1.7V1172.7h-1.7ZM372.79 1162.6h1.7V1172.7h-1.7ZM374.40 1163.2h1.7V1172.7h-1.7ZM376.00 1149.0h1.7V1172.7h-1.7ZM384.02 1135.0h1.7V1172.7h-1.7ZM385.63 1137.7h1.7V1172.7h-1.7ZM387.23 1159.9h1.7V1172.7h-1.7ZM388.83 1146.0h1.7V1172.7h-1.7ZM390.44 1164.6h1.7V1172.7h-1.7ZM393.65 1161.6h1.7V1172.7h-1.7ZM396.85 1163.8h1.7V1172.7h-1.7ZM398.46 1133.0h1.7V1172.7h-1.7ZM400.06 1165.0h1.7V1172.7h-1.7ZM403.27 1162.9h1.7V1172.7h-1.7ZM404.87 1164.4h1.7V1172.7h-1.7ZM406.48 1158.2h1.7V1172.7h-1.7ZM408.08 1135.8h1.7V1172.7h-1.7ZM414.50 1163.9h1.7V1172.7h-1.7ZM416.10 1157.6h1.7V1172.7h-1.7ZM417.71 1161.8h1.7V1172.7h-1.7ZM419.31 1158.9h1.7V1172.7h-1.7ZM420.91 1156.4h1.7V1172.7h-1.7ZM425.73 1165.1h1.7V1172.7h-1.7ZM457.81 1163.2h1.7V1172.7h-1.7ZM459.41 1163.8h1.7V1172.7h-1.7ZM461.01 1165.6h1.7V1172.7h-1.7ZM465.83 1165.1h1.7V1172.7h-1.7ZM470.64 1162.6h1.7V1172.7h-1.7ZM477.05 1158.9h1.7V1172.7h-1.7ZM480.26 1161.8h1.7V1172.7h-1.7ZM481.87 1165.5h1.7V1172.7h-1.7ZM483.47 1165.9h1.7V1172.7h-1.7ZM485.07 1164.9h1.7V1172.7h-1.7ZM488.28 1159.6h1.7V1172.7h-1.7ZM489.89 1162.4h1.7V1172.7h-1.7ZM491.49 1147.0h1.7V1172.7h-1.7ZM493.09 1142.0h1.7V1172.7h-1.7ZM494.70 1163.8h1.7V1172.7h-1.7ZM509.13 1165.2h1.7V1172.7h-1.7ZM517.15 1140.0h1.7V1172.7h-1.7ZM518.76 1138.0h1.7V1172.7h-1.7ZM520.36 1131.0h1.7V1172.7h-1.7ZM541.21 1145.6h1.7V1172.7h-1.7ZM542.82 1163.1h1.7V1172.7h-1.7ZM547.63 1161.5h1.7V1172.7h-1.7ZM549.23 1157.5h1.7V1172.7h-1.7ZM550.84 1162.2h1.7V1172.7h-1.7Z" fill="#c83c46"/>
<path d="M2.27 1162.4h1.7V1172.7h-1.7ZM10.29 1161.1h1.7V1172.7h-1.7ZM11.89 1162.3h1.7V1172.7h-1.7ZM13.50 1161.8h1.7V1172.7h-1.7ZM15.10 1158.1h1.7V1172.7h-1.7ZM16.71 1159.1h1.7V1172.7h-1.7ZM18.31 1161.5h1.7V1172.7h-1.7ZM19.91 1160.3h1.7V1172.7h-1.7ZM32.75 1158.1h1.7V1172.7h-1.7ZM40.77 1163.9h1.7V1172.7h-1.7ZM42.37 1160.2h1.7V1172.7h-1.7ZM45.58 1163.3h1.7V1172.7h-1.7ZM47.18 1161.1h1.7V1172.7h-1.7ZM48.79 1163.2h1.7V1172.7h-1.7ZM50.39 1161.6h1.7V1172.7h-1.7ZM51.99 1163.3h1.7V1172.7h-1.7ZM53.60 1162.3h1.7V1172.7h-1.7ZM55.20 1148.0h1.7V1172.7h-1.7ZM64.83 1163.1h1.7V1172.7h-1.7ZM66.43 1157.6h1.7V1172.7h-1.7ZM68.03 1163.5h1.7V1172.7h-1.7ZM69.64 1163.9h1.7V1172.7h-1.7ZM71.24 1158.6h1.7V1172.7h-1.7ZM77.66 1155.3h1.7V1172.7h-1.7ZM79.26 1158.0h1.7V1172.7h-1.7ZM80.87 1161.2h1.7V1172.7h-1.7ZM84.07 1158.6h1.7V1172.7h-1.7ZM95.30 1162.5h1.7V1172.7h-1.7ZM112.95 1161.9h1.7V1172.7h-1.7ZM114.55 1162.3h1.7V1172.7h-1.7ZM116.15 1161.5h1.7V1172.7h-1.7ZM117.76 1162.7h1.7V1172.7h-1.7ZM119.36 1157.6h1.7V1172.7h-1.7ZM127.38 1154.7h1.7V1172.7h-1.7ZM128.99 1161.1h1.7V1172.7h-1.7ZM130.59 1155.2h1.7V1172.7h-1.7ZM132.19 1160.2h1.7V1172.7h-1.7ZM133.80 1155.1h1.7V1172.7h-1.7ZM135.40 1159.2h1.7V1172.7h-1.7ZM140.21 1160.5h1.7V1172.7h-1.7ZM141.82 1160.3h1.7V1172.7h-1.7ZM143.42 1153.5h1.7V1172.7h-1.7ZM145.03 1162.2h1.7V1172.7h-1.7ZM154.65 1136.0h1.7V1172.7h-1.7ZM157.86 1159.3h1.7V1172.7h-1.7ZM159.46 1162.8h1.7V1172.7h-1.7ZM161.07 1160.6h1.7V1172.7h-1.7ZM162.67 1164.7h1.7V1172.7h-1.7ZM164.27 1156.8h1.7V1172.7h-1.7ZM165.88 1161.8h1.7V1172.7h-1.7ZM167.48 1161.0h1.7V1172.7h-1.7ZM169.09 1164.9h1.7V1172.7h-1.7ZM170.69 1164.9h1.7V1172.7h-1.7ZM173.90 1154.1h1.7V1172.7h-1.7ZM185.13 1162.4h1.7V1172.7h-1.7ZM186.73 1162.8h1.7V1172.7h-1.7ZM188.33 1164.9h1.7V1172.7h-1.7ZM189.94 1162.0h1.7V1172.7h-1.7ZM191.54 1164.6h1.7V1172.7h-1.7ZM193.15 1157.9h1.7V1172.7h-1.7ZM194.75 1164.3h1.7V1172.7h-1.7ZM196.35 1164.5h1.7V1172.7h-1.7ZM197.96 1156.5h1.7V1172.7h-1.7ZM199.56 1160.0h1.7V1172.7h-1.7ZM201.17 1165.4h1.7V1172.7h-1.7ZM202.77 1163.4h1.7V1172.7h-1.7ZM204.37 1164.9h1.7V1172.7h-1.7ZM205.98 1157.6h1.7V1172.7h-1.7ZM212.39 1161.9h1.7V1172.7h-1.7ZM214.00 1160.9h1.7V1172.7h-1.7ZM226.83 1161.3h1.7V1172.7h-1.7ZM244.47 1163.5h1.7V1172.7h-1.7ZM246.08 1162.0h1.7V1172.7h-1.7ZM247.68 1160.7h1.7V1172.7h-1.7ZM249.29 1162.4h1.7V1172.7h-1.7ZM252.49 1164.4h1.7V1172.7h-1.7ZM254.10 1160.7h1.7V1172.7h-1.7ZM258.91 1164.1h1.7V1172.7h-1.7ZM260.51 1165.4h1.7V1172.7h-1.7ZM263.72 1163.0h1.7V1172.7h-1.7ZM265.33 1157.9h1.7V1172.7h-1.7ZM268.53 1158.7h1.7V1172.7h-1.7ZM271.74 1161.8h1.7V1172.7h-1.7ZM273.35 1152.7h1.7V1172.7h-1.7ZM274.95 1161.8h1.7V1172.7h-1.7ZM276.55 1164.2h1.7V1172.7h-1.7ZM278.16 1163.7h1.7V1172.7h-1.7ZM282.97 1164.7h1.7V1172.7h-1.7ZM284.57 1152.7h1.7V1172.7h-1.7ZM287.78 1145.0h1.7V1172.7h-1.7ZM290.99 1159.3h1.7V1172.7h-1.7ZM292.59 1165.4h1.7V1172.7h-1.7ZM294.20 1165.1h1.7V1172.7h-1.7ZM295.80 1165.5h1.7V1172.7h-1.7ZM297.41 1158.8h1.7V1172.7h-1.7ZM299.01 1159.8h1.7V1172.7h-1.7ZM300.61 1165.8h1.7V1172.7h-1.7ZM302.22 1159.2h1.7V1172.7h-1.7ZM303.82 1160.9h1.7V1172.7h-1.7ZM307.03 1165.7h1.7V1172.7h-1.7ZM308.63 1158.4h1.7V1172.7h-1.7ZM313.45 1165.7h1.7V1172.7h-1.7ZM316.65 1159.0h1.7V1172.7h-1.7ZM318.26 1165.2h1.7V1172.7h-1.7ZM319.86 1164.3h1.7V1172.7h-1.7ZM323.07 1158.3h1.7V1172.7h-1.7ZM326.28 1164.3h1.7V1172.7h-1.7ZM327.88 1160.7h1.7V1172.7h-1.7ZM329.49 1159.7h1.7V1172.7h-1.7ZM339.11 1160.2h1.7V1172.7h-1.7ZM340.71 1159.1h1.7V1172.7h-1.7ZM342.32 1165.9h1.7V1172.7h-1.7ZM343.92 1157.1h1.7V1172.7h-1.7ZM345.53 1165.7h1.7V1172.7h-1.7ZM347.13 1164.4h1.7V1172.7h-1.7ZM348.73 1164.4h1.7V1172.7h-1.7ZM350.34 1165.4h1.7V1172.7h-1.7ZM392.04 1150.6h1.7V1172.7h-1.7ZM395.25 1161.6h1.7V1172.7h-1.7ZM401.67 1164.4h1.7V1172.7h-1.7ZM409.69 1161.4h1.7V1172.7h-1.7ZM411.29 1164.3h1.7V1172.7h-1.7ZM412.89 1163.4h1.7V1172.7h-1.7ZM422.52 1163.1h1.7V1172.7h-1.7ZM424.12 1164.3h1.7V1172.7h-1.7ZM427.33 1160.3h1.7V1172.7h-1.7ZM428.93 1149.0h1.7V1172.7h-1.7ZM430.54 1162.2h1.7V1172.7h-1.7ZM432.14 1159.7h1.7V1172.7h-1.7ZM433.75 1159.7h1.7V1172.7h-1.7ZM435.35 1163.3h1.7V1172.7h-1.7ZM436.95 1161.6h1.7V1172.7h-1.7ZM438.56 1158.0h1.7V1172.7h-1.7ZM440.16 1160.1h1.7V1172.7h-1.7ZM441.77 1163.3h1.7V1172.7h-1.7ZM443.37 1161.1h1.7V1172.7h-1.7ZM444.97 1163.2h1.7V1172.7h-1.7ZM446.58 1163.5h1.7V1172.7h-1.7ZM448.18 1157.7h1.7V1172.7h-1.7ZM449.79 1164.4h1.7V1172.7h-1.7ZM451.39 1162.0h1.7V1172.7h-1.7ZM452.99 1164.3h1.7V1172.7h-1.7ZM454.60 1162.2h1.7V1172.7h-1.7ZM456.20 1165.3h1.7V1172.7h-1.7ZM462.62 1165.6h1.7V1172.7h-1.7ZM464.22 1157.3h1.7V1172.7h-1.7ZM467.43 1158.5h1.7V1172.7h-1.7ZM469.03 1161.8h1.7V1172.7h-1.7ZM472.24 1165.2h1.7V1172.7h-1.7ZM473.85 1162.7h1.7V1172.7h-1.7ZM475.45 1154.2h1.7V1172.7h-1.7ZM478.66 1160.9h1.7V1172.7h-1.7ZM486.68 1165.0h1.7V1172.7h-1.7ZM496.30 1147.0h1.7V1172.7h-1.7ZM497.91 1165.4h1.7V1172.7h-1.7ZM499.51 1165.0h1.7V1172.7h-1.7ZM501.11 1165.3h1.7V1172.7h-1.7ZM502.72 1158.2h1.7V1172.7h-1.7ZM504.32 1162.9h1.7V1172.7h-1.7ZM505.93 1161.7h1.7V1172.7h-1.7ZM507.53 1160.9h1.7V1172.7h-1.7ZM510.74 1164.5h1.7V1172.7h-1.7ZM513.95 1129.0h1.7V1172.7h-1.7ZM515.55 1135.0h1.7V1172.7h-1.7ZM525.17 1140.0h1.7V1172.7h-1.7ZM526.78 1161.7h1.7V1172.7h-1.7ZM528.38 1142.0h1.7V1172.7h-1.7ZM529.99 1152.9h1.7V1172.7h-1.7ZM531.59 1159.3h1.7V1172.7h-1.7ZM533.19 1160.9h1.7V1172.7h-1.7ZM534.80 1162.7h1.7V1172.7h-1.7ZM536.40 1159.9h1.7V1172.7h-1.7ZM538.01 1156.7h1.7V1172.7h-1.7ZM539.61 1164.1h1.7V1172.7h-1.7ZM544.42 1156.1h1.7V1172.7h-1.7ZM546.03 1158.4h1.7V1172.7h-1.7Z" fill="#3d5ecb"/>
<path d="M82.47 1115.0h1.7V1172.7h-1.7ZM361.57 1115.0h1.7V1172.7h-1.7ZM377.61 1061.0h1.7V1172.7h-1.7ZM379.21 1111.0h1.7V1172.7h-1.7ZM380.81 1115.0h1.7V1172.7h-1.7ZM382.42 1125.0h1.7V1172.7h-1.7ZM512.34 1104.7h1.7V1172.7h-1.7ZM521.97 1099.4h1.7V1172.7h-1.7ZM523.57 1120.6h1.7V1172.7h-1.7ZM552.44 1058.0h1.7V1172.7h-1.7ZM554.05 1020.6h1.7V1172.7h-1.7ZM555.65 1068.6h1.7V1172.7h-1.7Z" fill="#a83236"/>
<path d="M1.5 1157.3 L3.1 1157.4 L4.7 1157.4 L6.3 1157.3 L7.9 1157.4 L9.5 1157.4 L11.1 1157.5 L12.7 1157.5 L14.3 1157.5 L16.0 1157.5 L17.6 1157.5 L19.2 1157.6 L20.8 1157.6 L22.4 1157.6 L24.0 1157.6 L25.6 1157.6 L27.2 1157.6 L28.8 1157.6 L30.4 1157.7 L32.0 1157.7 L33.6 1157.7 L35.2 1157.8 L36.8 1157.6 L38.4 1157.6 L40.0 1157.6 L41.6 1157.7 L43.2 1157.7 L44.8 1157.7 L46.4 1157.8 L48.0 1157.8 L49.6 1157.9 L51.2 1157.9 L52.8 1158.0 L54.4 1158.0 L56.1 1157.9 L57.7 1158.0 L59.3 1158.0 L60.9 1158.0 L62.5 1158.0 L64.1 1158.0 L65.7 1158.0 L67.3 1158.0 L68.9 1158.1 L70.5 1158.1 L72.1 1158.2 L73.7 1158.2 L75.3 1158.1 L76.9 1158.1 L78.5 1158.1 L80.1 1158.1 L81.7 1158.1 L83.3 1157.8 L84.9 1157.8 L86.5 1157.8 L88.1 1157.9 L89.7 1157.9 L91.3 1157.9 L92.9 1158.0 L94.5 1158.0 L96.2 1158.1 L97.8 1158.0 L99.4 1158.0 L101.0 1157.9 L102.6 1158.0 L104.2 1158.0 L105.8 1158.0 L107.4 1158.0 L109.0 1158.0 L110.6 1158.0 L112.2 1158.1 L113.8 1158.1 L115.4 1158.1 L117.0 1158.2 L118.6 1158.2 L120.2 1158.2 L121.8 1158.0 L123.4 1158.0 L125.0 1158.0 L126.6 1158.1 L128.2 1158.0 L129.8 1158.1 L131.4 1158.1 L133.0 1158.1 L134.6 1158.1 L136.3 1158.1 L137.9 1158.1 L139.5 1158.1 L141.1 1158.2 L142.7 1158.2 L144.3 1158.2 L145.9 1158.2 L147.5 1158.2 L149.1 1158.3 L150.7 1158.3 L152.3 1158.3 L153.9 1158.4 L155.5 1158.2 L157.1 1158.2 L158.7 1158.2 L160.3 1158.3 L161.9 1158.3 L163.5 1158.4 L165.1 1158.3 L166.7 1158.4 L168.3 1158.4 L169.9 1158.5 L171.5 1158.5 L173.1 1158.5 L174.7 1158.5 L176.4 1158.6 L178.0 1158.5 L179.6 1158.5 L181.2 1158.5 L182.8 1158.5 L184.4 1158.6 L186.0 1158.6 L187.6 1158.7 L189.2 1158.7 L190.8 1158.8 L192.4 1158.8 L194.0 1159.0 L195.6 1159.0 L197.2 1159.1 L198.8 1159.1 L200.4 1159.1 L202.0 1159.1 L203.6 1159.1 L205.2 1159.2 L206.8 1159.1 L208.4 1159.2 L210.0 1159.2 L211.6 1159.2 L213.2 1159.2 L214.8 1159.2 L216.5 1159.3 L218.1 1159.3 L219.7 1159.3 L221.3 1159.4 L222.9 1159.4 L224.5 1159.4 L226.1 1159.4 L227.7 1159.4 L229.3 1159.6 L230.9 1159.6 L232.5 1159.6 L234.1 1159.6 L235.7 1159.6 L237.3 1159.7 L238.9 1159.7 L240.5 1159.6 L242.1 1159.6 L243.7 1159.6 L245.3 1159.6 L246.9 1159.6 L248.5 1159.7 L250.1 1159.7 L251.7 1159.7 L253.3 1159.8 L254.9 1159.8 L256.6 1159.9 L258.2 1159.9 L259.8 1159.9 L261.4 1159.9 L263.0 1159.9 L264.6 1160.0 L266.2 1160.0 L267.8 1160.1 L269.4 1160.0 L271.0 1160.1 L272.6 1160.1 L274.2 1160.1 L275.8 1160.4 L277.4 1160.5 L279.0 1160.5 L280.6 1160.5 L282.2 1160.5 L283.8 1160.6 L285.4 1160.5 L287.0 1160.5 L288.6 1160.3 L290.2 1160.4 L291.8 1160.4 L293.4 1160.5 L295.0 1160.6 L296.7 1160.7 L298.3 1160.6 L299.9 1160.6 L301.5 1160.7 L303.1 1160.7 L304.7 1160.7 L306.3 1160.7 L307.9 1160.7 L309.5 1160.7 L311.1 1160.7 L312.7 1160.7 L314.3 1161.0 L315.9 1161.0 L317.5 1161.0 L319.1 1161.1 L320.7 1161.1 L322.3 1161.1 L323.9 1161.1 L325.5 1161.1 L327.1 1161.2 L328.7 1161.2 L330.3 1161.2 L331.9 1161.2 L333.5 1161.2 L335.1 1161.2 L336.8 1161.3 L338.4 1161.3 L340.0 1161.3 L341.6 1161.3 L343.2 1161.3 L344.8 1161.3 L346.4 1161.3 L348.0 1161.5 L349.6 1161.6 L351.2 1161.6 L352.8 1161.6 L354.4 1161.6 L356.0 1161.5 L357.6 1161.6 L359.2 1161.6 L360.8 1161.5 L362.4 1161.0 L364.0 1161.0 L365.6 1160.9 L367.2 1160.9 L368.8 1160.9 L370.4 1160.9 L372.0 1161.0 L373.6 1161.0 L375.2 1161.1 L376.9 1160.9 L378.5 1160.1 L380.1 1159.7 L381.7 1159.2 L383.3 1158.9 L384.9 1158.7 L386.5 1158.5 L388.1 1158.5 L389.7 1158.3 L391.3 1158.4 L392.9 1158.3 L394.5 1158.3 L396.1 1158.3 L397.7 1158.3 L399.3 1158.0 L400.9 1158.1 L402.5 1158.1 L404.1 1158.1 L405.7 1158.1 L407.3 1158.1 L408.9 1157.8 L410.5 1157.8 L412.1 1157.9 L413.7 1157.8 L415.3 1157.9 L417.0 1157.8 L418.6 1157.9 L420.2 1157.8 L421.8 1157.8 L423.4 1157.8 L425.0 1157.8 L426.6 1157.8 L428.2 1157.8 L429.8 1157.7 L431.4 1157.7 L433.0 1157.7 L434.6 1157.7 L436.2 1157.7 L437.8 1157.7 L439.4 1157.6 L441.0 1157.6 L442.6 1157.6 L444.2 1157.6 L445.8 1157.6 L447.4 1157.6 L449.0 1157.6 L450.6 1157.6 L452.2 1157.6 L453.8 1157.6 L455.4 1157.6 L457.1 1157.6 L458.7 1157.6 L460.3 1157.7 L461.9 1157.7 L463.5 1157.7 L465.1 1157.7 L466.7 1157.8 L468.3 1157.8 L469.9 1157.7 L471.5 1157.7 L473.1 1157.8 L474.7 1157.8 L476.3 1157.7 L477.9 1157.7 L479.5 1157.7 L481.1 1157.9 L482.7 1157.9 L484.3 1158.0 L485.9 1158.0 L487.5 1158.0 L489.1 1157.9 L490.7 1157.9 L492.3 1157.8 L493.9 1157.6 L495.5 1157.7 L497.2 1157.6 L498.8 1157.6 L500.4 1157.6 L502.0 1157.6 L503.6 1157.6 L505.2 1157.6 L506.8 1157.6 L508.4 1157.6 L510.0 1157.6 L511.6 1157.6 L513.2 1157.1 L514.8 1156.9 L516.4 1156.7 L518.0 1156.5 L519.6 1156.3 L521.2 1156.0 L522.8 1155.5 L524.4 1155.2 L526.0 1155.0 L527.6 1155.0 L529.2 1154.9 L530.8 1154.8 L532.4 1154.8 L534.0 1154.8 L535.6 1154.8 L537.3 1154.8 L538.9 1154.7 L540.5 1154.7 L542.1 1154.6 L543.7 1154.5 L545.3 1154.5 L546.9 1154.5 L548.5 1154.5 L550.1 1154.5 L551.7 1154.5 L553.3 1153.7 L554.9 1152.9 L556.5 1152.2" stroke="#555555" stroke-width="1.0" fill="none" stroke-opacity="1.0" stroke-linejoin="round"/>
<path d="M1.5 1157.1 L3.1 1157.2 L4.7 1157.3 L6.3 1157.1 L7.9 1157.2 L9.5 1157.3 L11.1 1157.4 L12.7 1157.5 L14.3 1157.5 L16.0 1157.5 L17.6 1157.6 L19.2 1157.6 L20.8 1157.7 L22.4 1157.7 L24.0 1157.7 L25.6 1157.7 L27.2 1157.8 L28.8 1157.7 L30.4 1157.8 L32.0 1157.9 L33.6 1157.9 L35.2 1158.0 L36.8 1157.7 L38.4 1157.7 L40.0 1157.8 L41.6 1157.9 L43.2 1157.9 L44.8 1158.0 L46.4 1158.1 L48.0 1158.1 L49.6 1158.2 L51.2 1158.3 L52.8 1158.4 L54.4 1158.5 L56.1 1158.3 L57.7 1158.4 L59.3 1158.5 L60.9 1158.5 L62.5 1158.5 L64.1 1158.5 L65.7 1158.5 L67.3 1158.5 L68.9 1158.6 L70.5 1158.8 L72.1 1158.8 L73.7 1158.8 L75.3 1158.6 L76.9 1158.7 L78.5 1158.7 L80.1 1158.7 L81.7 1158.8 L83.3 1158.1 L84.9 1158.1 L86.5 1158.1 L88.1 1158.2 L89.7 1158.3 L91.3 1158.3 L92.9 1158.4 L94.5 1158.5 L96.2 1158.6 L97.8 1159.0 L99.4 1158.9 L101.0 1158.6 L102.6 1158.9 L104.2 1158.7 L105.8 1158.6 L107.4 1158.6 L109.0 1158.5 L110.6 1158.5 L112.2 1158.6 L113.8 1158.6 L115.4 1158.6 L117.0 1158.7 L118.6 1158.7 L120.2 1158.7 L121.8 1158.2 L123.4 1158.3 L125.0 1158.4 L126.6 1158.3 L128.2 1158.2 L129.8 1158.3 L131.4 1158.1 L133.0 1158.4 L134.6 1158.4 L136.3 1158.4 L137.9 1158.3 L139.5 1158.4 L141.1 1158.4 L142.7 1158.3 L144.3 1158.2 L145.9 1158.2 L147.5 1158.2 L149.1 1158.1 L150.7 1158.1 L152.3 1158.4 L153.9 1158.4 L155.5 1157.9 L157.1 1157.9 L158.7 1158.0 L160.3 1158.1 L161.9 1158.0 L163.5 1158.2 L165.1 1158.1 L166.7 1158.0 L168.3 1158.1 L169.9 1158.2 L171.5 1158.4 L173.1 1158.3 L174.7 1158.3 L176.4 1158.4 L178.0 1158.3 L179.6 1159.0 L181.2 1158.9 L182.8 1158.9 L184.4 1158.9 L186.0 1158.9 L187.6 1159.0 L189.2 1159.1 L190.8 1159.0 L192.4 1159.1 L194.0 1159.1 L195.6 1159.2 L197.2 1159.5 L198.8 1159.4 L200.4 1159.5 L202.0 1159.6 L203.6 1159.6 L205.2 1159.8 L206.8 1159.7 L208.4 1159.8 L210.0 1159.8 L211.6 1159.8 L213.2 1159.8 L214.8 1159.8 L216.5 1159.9 L218.1 1160.4 L219.7 1160.4 L221.3 1160.5 L222.9 1160.4 L224.5 1160.6 L226.1 1160.5 L227.7 1160.6 L229.3 1160.7 L230.9 1160.9 L232.5 1160.9 L234.1 1160.9 L235.7 1160.9 L237.3 1161.0 L238.9 1161.0 L240.5 1161.0 L242.1 1161.0 L243.7 1161.0 L245.3 1161.1 L246.9 1161.1 L248.5 1161.1 L250.1 1161.1 L251.7 1161.5 L253.3 1161.6 L254.9 1161.6 L256.6 1161.6 L258.2 1161.7 L259.8 1161.7 L261.4 1161.8 L263.0 1161.9 L264.6 1161.9 L266.2 1161.8 L267.8 1161.7 L269.4 1161.7 L271.0 1161.9 L272.6 1161.8 L274.2 1161.8 L275.8 1161.9 L277.4 1162.1 L279.0 1162.1 L280.6 1162.1 L282.2 1162.1 L283.8 1162.2 L285.4 1162.0 L287.0 1161.9 L288.6 1161.6 L290.2 1161.6 L291.8 1161.6 L293.4 1161.6 L295.0 1161.7 L296.7 1161.8 L298.3 1161.7 L299.9 1161.6 L301.5 1161.6 L303.1 1161.7 L304.7 1161.6 L306.3 1161.6 L307.9 1161.6 L309.5 1161.6 L311.1 1161.5 L312.7 1161.5 L314.3 1161.7 L315.9 1161.7 L317.5 1161.6 L319.1 1161.7 L320.7 1161.7 L322.3 1161.7 L323.9 1161.7 L325.5 1161.6 L327.1 1161.6 L328.7 1161.6 L330.3 1161.5 L331.9 1161.5 L333.5 1161.4 L335.1 1161.4 L336.8 1161.5 L338.4 1161.5 L340.0 1161.5 L341.6 1161.4 L343.2 1161.5 L344.8 1161.4 L346.4 1161.5 L348.0 1161.5 L349.6 1161.5 L351.2 1161.6 L352.8 1161.5 L354.4 1161.5 L356.0 1161.4 L357.6 1161.3 L359.2 1161.3 L360.8 1161.0 L362.4 1160.3 L364.0 1160.3 L365.6 1160.1 L367.2 1159.8 L368.8 1159.9 L370.4 1160.0 L372.0 1160.0 L373.6 1160.0 L375.2 1160.0 L376.9 1159.7 L378.5 1158.0 L380.1 1157.1 L381.7 1156.5 L383.3 1155.9 L384.9 1155.7 L386.5 1155.4 L388.1 1155.4 L389.7 1155.1 L391.3 1155.1 L392.9 1154.8 L394.5 1154.9 L396.1 1154.9 L397.7 1154.9 L399.3 1154.4 L400.9 1154.5 L402.5 1154.5 L404.1 1154.5 L405.7 1154.6 L407.3 1154.6 L408.9 1154.1 L410.5 1154.0 L412.1 1154.0 L413.7 1154.1 L415.3 1154.1 L417.0 1154.0 L418.6 1154.0 L420.2 1154.0 L421.8 1154.0 L423.4 1154.0 L425.0 1154.0 L426.6 1154.1 L428.2 1154.1 L429.8 1153.9 L431.4 1153.9 L433.0 1153.9 L434.6 1153.8 L436.2 1153.9 L437.8 1153.9 L439.4 1153.8 L441.0 1153.8 L442.6 1153.8 L444.2 1153.8 L445.8 1153.7 L447.4 1153.7 L449.0 1153.7 L450.6 1153.7 L452.2 1153.8 L453.8 1153.8 L455.4 1153.8 L457.1 1154.1 L458.7 1154.9 L460.3 1155.1 L461.9 1155.4 L463.5 1155.6 L465.1 1155.5 L466.7 1155.6 L468.3 1155.5 L469.9 1155.5 L471.5 1155.5 L473.1 1155.8 L474.7 1157.5 L476.3 1158.2 L477.9 1158.9 L479.5 1159.5 L481.1 1160.0 L482.7 1160.4 L484.3 1160.5 L485.9 1160.8 L487.5 1160.8 L489.1 1161.0 L490.7 1161.0 L492.3 1160.8 L493.9 1160.4 L495.5 1160.9 L497.2 1160.6 L498.8 1160.6 L500.4 1160.7 L502.0 1160.7 L503.6 1160.7 L505.2 1161.1 L506.8 1161.1 L508.4 1161.1 L510.0 1161.1 L511.6 1161.1 L513.2 1160.2 L514.8 1159.7 L516.4 1159.3 L518.0 1159.0 L519.6 1158.6 L521.2 1158.1 L522.8 1157.0 L524.4 1156.3 L526.0 1156.1 L527.6 1156.1 L529.2 1155.8 L530.8 1155.7 L532.4 1155.7 L534.0 1155.7 L535.6 1155.7 L537.3 1155.7 L538.9 1155.6 L540.5 1155.7 L542.1 1155.4 L543.7 1155.4 L545.3 1155.3 L546.9 1155.2 L548.5 1155.2 L550.1 1155.1 L551.7 1155.1 L553.3 1153.3 L554.9 1151.0 L556.5 1149.4" stroke="#3a8a3a" stroke-width="1.3" fill="none" stroke-opacity="1.0" stroke-linejoin="round"/>
<path d="M1.5 1156.3 L3.1 1156.6 L4.7 1156.7 L6.3 1156.3 L7.9 1156.6 L9.5 1156.9 L11.1 1157.1 L12.7 1157.3 L14.3 1157.5 L16.0 1157.5 L17.6 1157.6 L19.2 1157.8 L20.8 1157.9 L22.4 1158.1 L24.0 1158.1 L25.6 1158.1 L27.2 1158.2 L28.8 1158.1 L30.4 1158.4 L32.0 1158.6 L33.6 1159.8 L35.2 1159.8 L36.8 1159.0 L38.4 1159.3 L40.0 1159.1 L41.6 1159.2 L43.2 1159.2 L44.8 1159.1 L46.4 1159.2 L48.0 1159.3 L49.6 1159.5 L51.2 1159.5 L52.8 1159.7 L54.4 1159.7 L56.1 1159.3 L57.7 1159.6 L59.3 1159.7 L60.9 1159.8 L62.5 1159.4 L64.1 1159.2 L65.7 1159.5 L67.3 1159.2 L68.9 1160.2 L70.5 1160.7 L72.1 1160.6 L73.7 1160.3 L75.3 1159.7 L76.9 1159.8 L78.5 1159.4 L80.1 1159.3 L81.7 1159.2 L83.3 1156.8 L84.9 1156.6 L86.5 1156.6 L88.1 1157.3 L89.7 1157.3 L91.3 1157.1 L92.9 1157.2 L94.5 1157.6 L96.2 1157.9 L97.8 1157.5 L99.4 1157.5 L101.0 1156.6 L102.6 1156.6 L104.2 1156.3 L105.8 1156.4 L107.4 1157.1 L109.0 1156.7 L110.6 1156.9 L112.2 1157.1 L113.8 1157.2 L115.4 1159.5 L117.0 1159.7 L118.6 1159.7 L120.2 1159.5 L121.8 1157.8 L123.4 1158.0 L125.0 1158.0 L126.6 1157.9 L128.2 1157.5 L129.8 1157.8 L131.4 1157.6 L133.0 1158.4 L134.6 1157.9 L136.3 1158.3 L137.9 1158.3 L139.5 1158.3 L141.1 1158.5 L142.7 1158.6 L144.3 1158.2 L145.9 1158.2 L147.5 1158.3 L149.1 1158.1 L150.7 1157.9 L152.3 1158.3 L153.9 1159.9 L155.5 1158.7 L157.1 1158.5 L158.7 1158.5 L160.3 1158.9 L161.9 1158.8 L163.5 1159.3 L165.1 1159.1 L166.7 1159.5 L168.3 1159.6 L169.9 1159.8 L171.5 1159.9 L173.1 1159.7 L174.7 1159.4 L176.4 1159.9 L178.0 1159.6 L179.6 1159.1 L181.2 1158.9 L182.8 1159.0 L184.4 1159.0 L186.0 1158.9 L187.6 1160.2 L189.2 1160.6 L190.8 1160.7 L192.4 1160.8 L194.0 1160.7 L195.6 1160.6 L197.2 1161.0 L198.8 1160.8 L200.4 1160.7 L202.0 1160.7 L203.6 1160.7 L205.2 1161.1 L206.8 1161.3 L208.4 1161.2 L210.0 1161.6 L211.6 1162.2 L213.2 1162.5 L214.8 1162.5 L216.5 1162.5 L218.1 1162.3 L219.7 1162.2 L221.3 1162.3 L222.9 1162.0 L224.5 1162.0 L226.1 1162.1 L227.7 1161.9 L229.3 1161.9 L230.9 1162.3 L232.5 1162.3 L234.1 1162.2 L235.7 1162.2 L237.3 1162.2 L238.9 1162.5 L240.5 1162.0 L242.1 1161.9 L243.7 1161.8 L245.3 1161.9 L246.9 1162.0 L248.5 1161.8 L250.1 1162.0 L251.7 1162.1 L253.3 1162.0 L254.9 1162.2 L256.6 1162.0 L258.2 1162.4 L259.8 1162.5 L261.4 1162.6 L263.0 1162.5 L264.6 1162.6 L266.2 1162.4 L267.8 1162.2 L269.4 1161.9 L271.0 1162.0 L272.6 1162.3 L274.2 1161.9 L275.8 1161.9 L277.4 1161.9 L279.0 1162.0 L280.6 1162.1 L282.2 1162.1 L283.8 1162.2 L285.4 1161.6 L287.0 1161.6 L288.6 1160.8 L290.2 1160.5 L291.8 1160.2 L293.4 1160.2 L295.0 1160.3 L296.7 1160.5 L298.3 1160.5 L299.9 1160.6 L301.5 1160.9 L303.1 1160.6 L304.7 1160.5 L306.3 1161.0 L307.9 1161.2 L309.5 1160.9 L311.1 1160.7 L312.7 1160.7 L314.3 1160.9 L315.9 1160.9 L317.5 1161.2 L319.1 1161.4 L320.7 1162.4 L322.3 1162.3 L323.9 1162.3 L325.5 1161.9 L327.1 1161.9 L328.7 1161.7 L330.3 1161.7 L331.9 1161.8 L333.5 1161.5 L335.1 1161.6 L336.8 1161.5 L338.4 1161.7 L340.0 1161.4 L341.6 1161.4 L343.2 1161.8 L344.8 1161.5 L346.4 1161.5 L348.0 1161.5 L349.6 1161.7 L351.2 1161.7 L352.8 1161.4 L354.4 1161.7 L356.0 1161.6 L357.6 1161.8 L359.2 1161.8 L360.8 1161.0 L362.4 1158.7 L364.0 1158.4 L365.6 1157.8 L367.2 1157.3 L368.8 1157.5 L370.4 1157.4 L372.0 1157.4 L373.6 1157.5 L375.2 1157.4 L376.9 1157.0 L378.5 1151.8 L380.1 1149.1 L381.7 1146.6 L383.3 1144.6 L384.9 1143.5 L386.5 1142.2 L388.1 1142.3 L389.7 1141.5 L391.3 1141.5 L392.9 1141.8 L394.5 1144.1 L396.1 1144.5 L397.7 1145.3 L399.3 1144.4 L400.9 1144.4 L402.5 1144.5 L404.1 1144.6 L405.7 1144.7 L407.3 1144.5 L408.9 1143.8 L410.5 1148.9 L412.1 1151.5 L413.7 1153.9 L415.3 1155.9 L417.0 1157.0 L418.6 1158.2 L420.2 1158.2 L421.8 1158.7 L423.4 1158.6 L425.0 1159.3 L426.6 1159.5 L428.2 1159.4 L429.8 1158.7 L431.4 1160.1 L433.0 1159.9 L434.6 1159.6 L436.2 1159.6 L437.8 1159.5 L439.4 1159.5 L441.0 1160.7 L442.6 1160.8 L444.2 1160.6 L445.8 1160.6 L447.4 1160.6 L449.0 1160.6 L450.6 1160.7 L452.2 1160.9 L453.8 1161.3 L455.4 1161.2 L457.1 1161.3 L458.7 1161.2 L460.3 1161.4 L461.9 1162.2 L463.5 1162.4 L465.1 1162.3 L466.7 1162.5 L468.3 1162.3 L469.9 1162.3 L471.5 1162.5 L473.1 1162.8 L474.7 1162.7 L476.3 1162.4 L477.9 1162.2 L479.5 1162.1 L481.1 1162.3 L482.7 1162.3 L484.3 1162.5 L485.9 1162.5 L487.5 1162.7 L489.1 1162.4 L490.7 1162.4 L492.3 1161.5 L493.9 1160.3 L495.5 1160.3 L497.2 1159.7 L498.8 1159.8 L500.4 1160.1 L502.0 1160.3 L503.6 1160.0 L505.2 1159.9 L506.8 1159.9 L508.4 1160.2 L510.0 1160.5 L511.6 1160.7 L513.2 1157.8 L514.8 1156.0 L516.4 1154.5 L518.0 1153.2 L519.6 1151.9 L521.2 1150.5 L522.8 1147.3 L524.4 1146.0 L526.0 1145.9 L527.6 1145.8 L529.2 1145.5 L530.8 1144.9 L532.4 1144.6 L534.0 1144.4 L535.6 1144.6 L537.3 1144.5 L538.9 1144.2 L540.5 1144.4 L542.1 1143.4 L543.7 1143.3 L545.3 1145.9 L546.9 1147.4 L548.5 1148.7 L550.1 1149.6 L551.7 1150.8 L553.3 1147.1 L554.9 1143.2 L556.5 1140.6" stroke="#e0b040" stroke-width="1.3" fill="none" stroke-opacity="1.0" stroke-linejoin="round"/>
<path d="M1.5 1152.6 L3.1 1153.6 L4.7 1154.4 L6.3 1152.6 L7.9 1154.0 L9.5 1159.8 L11.1 1159.5 L12.7 1159.7 L14.3 1162.3 L16.0 1161.1 L17.6 1160.5 L19.2 1160.6 L20.8 1160.1 L22.4 1160.0 L24.0 1159.7 L25.6 1159.5 L27.2 1159.2 L28.8 1158.2 L30.4 1158.8 L32.0 1159.5 L33.6 1159.6 L35.2 1160.1 L36.8 1157.7 L38.4 1156.0 L40.0 1156.1 L41.6 1157.3 L43.2 1156.8 L44.8 1160.2 L46.4 1161.8 L48.0 1161.9 L49.6 1161.7 L51.2 1162.0 L52.8 1162.5 L54.4 1162.3 L56.1 1159.7 L57.7 1159.8 L59.3 1160.1 L60.9 1158.7 L62.5 1157.5 L64.1 1159.3 L65.7 1159.1 L67.3 1158.1 L68.9 1159.5 L70.5 1161.1 L72.1 1161.4 L73.7 1160.5 L75.3 1158.5 L76.9 1158.6 L78.5 1156.9 L80.1 1156.8 L81.7 1157.3 L83.3 1150.7 L84.9 1149.6 L86.5 1150.9 L88.1 1151.8 L89.7 1152.3 L91.3 1160.9 L92.9 1161.2 L94.5 1161.6 L96.2 1161.6 L97.8 1160.1 L99.4 1160.0 L101.0 1157.0 L102.6 1157.1 L104.2 1155.2 L105.8 1156.0 L107.4 1156.9 L109.0 1159.1 L110.6 1158.0 L112.2 1159.9 L113.8 1160.3 L115.4 1160.3 L117.0 1161.4 L118.6 1162.2 L120.2 1161.2 L121.8 1154.9 L123.4 1154.8 L125.0 1154.7 L126.6 1154.3 L128.2 1153.8 L129.8 1159.9 L131.4 1158.6 L133.0 1158.4 L134.6 1157.2 L136.3 1158.1 L137.9 1158.2 L139.5 1159.6 L141.1 1159.7 L142.7 1160.7 L144.3 1159.6 L145.9 1159.8 L147.5 1160.0 L149.1 1159.6 L150.7 1159.5 L152.3 1161.7 L153.9 1162.0 L155.5 1156.5 L157.1 1156.5 L158.7 1156.4 L160.3 1156.0 L161.9 1155.4 L163.5 1161.2 L165.1 1160.8 L166.7 1161.3 L168.3 1161.0 L169.9 1161.8 L171.5 1161.9 L173.1 1161.8 L174.7 1160.2 L176.4 1161.0 L178.0 1159.2 L179.6 1156.9 L181.2 1156.7 L182.8 1158.0 L184.4 1157.8 L186.0 1159.2 L187.6 1161.0 L189.2 1163.0 L190.8 1163.2 L192.4 1163.3 L194.0 1162.4 L195.6 1162.7 L197.2 1162.7 L198.8 1161.6 L200.4 1160.7 L202.0 1162.1 L203.6 1162.0 L205.2 1162.0 L206.8 1162.2 L208.4 1163.0 L210.0 1162.6 L211.6 1162.9 L213.2 1162.3 L214.8 1162.9 L216.5 1163.1 L218.1 1162.1 L219.7 1161.4 L221.3 1162.1 L222.9 1161.4 L224.5 1161.5 L226.1 1161.5 L227.7 1161.4 L229.3 1161.2 L230.9 1162.8 L232.5 1161.8 L234.1 1162.6 L235.7 1163.0 L237.3 1163.1 L238.9 1162.8 L240.5 1161.7 L242.1 1161.5 L243.7 1161.4 L245.3 1161.2 L246.9 1160.9 L248.5 1162.1 L250.1 1162.3 L251.7 1162.4 L253.3 1162.6 L254.9 1162.4 L256.6 1162.5 L258.2 1163.1 L259.8 1163.2 L261.4 1163.4 L263.0 1163.8 L264.6 1164.2 L266.2 1162.6 L267.8 1161.6 L269.4 1160.3 L271.0 1160.8 L272.6 1160.6 L274.2 1159.6 L275.8 1160.1 L277.4 1161.2 L279.0 1160.9 L280.6 1161.1 L282.2 1163.1 L283.8 1163.7 L285.4 1161.4 L287.0 1160.8 L288.6 1157.2 L290.2 1156.5 L291.8 1155.5 L293.4 1158.0 L295.0 1158.8 L296.7 1162.9 L298.3 1162.8 L299.9 1162.9 L301.5 1163.0 L303.1 1161.8 L304.7 1160.9 L306.3 1161.7 L307.9 1162.9 L309.5 1161.4 L311.1 1161.2 L312.7 1161.9 L314.3 1162.5 L315.9 1162.1 L317.5 1162.3 L319.1 1163.7 L320.7 1163.7 L322.3 1162.3 L323.9 1161.1 L325.5 1161.1 L327.1 1160.9 L328.7 1160.2 L330.3 1160.4 L331.9 1161.1 L333.5 1161.3 L335.1 1160.4 L336.8 1160.5 L338.4 1161.5 L340.0 1161.2 L341.6 1161.0 L343.2 1162.2 L344.8 1161.5 L346.4 1161.6 L348.0 1162.4 L349.6 1163.5 L351.2 1163.4 L352.8 1163.5 L354.4 1163.2 L356.0 1161.6 L357.6 1161.3 L359.2 1161.1 L360.8 1158.4 L362.4 1148.6 L364.0 1148.3 L365.6 1145.4 L367.2 1142.5 L368.8 1146.4 L370.4 1156.0 L372.0 1157.1 L373.6 1160.0 L375.2 1162.7 L376.9 1159.6 L378.5 1139.3 L380.1 1129.4 L381.7 1119.8 L383.3 1112.2 L384.9 1109.4 L386.5 1124.7 L388.1 1134.5 L389.7 1140.7 L391.3 1148.6 L392.9 1151.8 L394.5 1156.5 L396.1 1156.9 L397.7 1160.4 L399.3 1154.1 L400.9 1157.0 L402.5 1157.6 L404.1 1157.8 L405.7 1158.0 L407.3 1163.0 L408.9 1157.2 L410.5 1156.6 L412.1 1156.8 L413.7 1156.6 L415.3 1157.8 L417.0 1162.1 L418.6 1162.2 L420.2 1161.1 L421.8 1159.7 L423.4 1159.5 L425.0 1160.9 L426.6 1161.6 L428.2 1161.8 L429.8 1160.4 L431.4 1160.2 L433.0 1159.2 L434.6 1158.2 L436.2 1158.8 L437.8 1161.3 L439.4 1160.5 L441.0 1160.5 L442.6 1161.3 L444.2 1160.8 L445.8 1161.1 L447.4 1162.2 L449.0 1161.7 L450.6 1162.0 L452.2 1162.1 L453.8 1162.4 L455.4 1162.1 L457.1 1163.6 L458.7 1163.4 L460.3 1163.8 L461.9 1164.0 L463.5 1164.7 L465.1 1163.1 L466.7 1163.5 L468.3 1162.4 L469.9 1161.6 L471.5 1161.1 L473.1 1162.6 L474.7 1162.1 L476.3 1161.3 L477.9 1160.7 L479.5 1160.4 L481.1 1159.7 L482.7 1160.3 L484.3 1162.6 L485.9 1163.8 L487.5 1164.6 L489.1 1164.2 L490.7 1163.6 L492.3 1159.8 L493.9 1155.2 L495.5 1155.0 L497.2 1152.4 L498.8 1153.0 L500.4 1156.6 L502.0 1161.3 L503.6 1160.2 L505.2 1163.3 L506.8 1162.6 L508.4 1161.8 L510.0 1161.8 L511.6 1163.0 L513.2 1151.4 L514.8 1144.9 L516.4 1139.7 L518.0 1134.6 L519.6 1129.3 L521.2 1134.6 L522.8 1128.7 L524.4 1125.8 L526.0 1125.8 L527.6 1130.5 L529.2 1132.7 L530.8 1143.4 L532.4 1151.2 L534.0 1155.4 L535.6 1155.6 L537.3 1159.1 L538.9 1159.9 L540.5 1160.9 L542.1 1157.8 L543.7 1157.9 L545.3 1157.1 L546.9 1157.5 L548.5 1156.9 L550.1 1159.3 L551.7 1159.1 L553.3 1139.5 L554.9 1112.0 L556.5 1093.4" stroke="#a93da0" stroke-width="1.3" fill="none" stroke-opacity="1.0" stroke-linejoin="round"/>
</svg>
<svg width="660" height="1339">
<path d="M389.75 557l9.25 7v19h-18.5v-19Z" fill="#fff" stroke="#a8372b" stroke-width="1.3" stroke-linejoin="miter"/><text x="389.75" y="579.3" font-size="17" fill="#a8372b" stroke="#a8372b" stroke-width="0.5" text-anchor="middle" font-family="Liberation Sans,Noto Sans CJK KR,sans-serif">B</text>
<path d="M404.25 532l9.25 7v19h-18.5v-19Z" fill="#fff" stroke="#a8372b" stroke-width="1.3" stroke-linejoin="miter"/><text x="404.25" y="554.3" font-size="17" fill="#a8372b" stroke="#a8372b" stroke-width="0.5" text-anchor="middle" font-family="Liberation Sans,Noto Sans CJK KR,sans-serif">B</text>
<path d="M441.2 679.8h18.5v19l-9.25 7l-9.25 -7Z" fill="#fff" stroke="#27418a" stroke-width="1.3" stroke-linejoin="miter"/><text x="450.45" y="696.5999999999999" font-size="17" fill="#27418a" stroke="#27418a" stroke-width="0.5" text-anchor="middle" font-family="Liberation Sans,Noto Sans CJK KR,sans-serif">S</text>
<path d="M450.45 706.5l9.25 7v19h-18.5v-19Z" fill="#fff" stroke="#a8372b" stroke-width="1.3" stroke-linejoin="miter"/><text x="450.45" y="728.8" font-size="17" fill="#a8372b" stroke="#a8372b" stroke-width="0.5" text-anchor="middle" font-family="Liberation Sans,Noto Sans CJK KR,sans-serif">B</text>
<path d="M475.3 685h18.5v19l-9.25 7l-9.25 -7Z" fill="#fff" stroke="#27418a" stroke-width="1.3" stroke-linejoin="miter"/><text x="484.55" y="701.8" font-size="17" fill="#27418a" stroke="#27418a" stroke-width="0.5" text-anchor="middle" font-family="Liberation Sans,Noto Sans CJK KR,sans-serif">S</text>
<path d="M473.25 732l9.25 7v19h-18.5v-19Z" fill="#fff" stroke="#a8372b" stroke-width="1.3" stroke-linejoin="miter"/><text x="473.25" y="754.3" font-size="17" fill="#a8372b" stroke="#a8372b" stroke-width="0.5" text-anchor="middle" font-family="Liberation Sans,Noto Sans CJK KR,sans-serif">B</text>
<path d="M517.3 643.5h18.5v19l-9.25 7l-9.25 -7Z" fill="#fff" stroke="#27418a" stroke-width="1.3" stroke-linejoin="miter"/><text x="526.55" y="660.3" font-size="17" fill="#27418a" stroke="#27418a" stroke-width="0.5" text-anchor="middle" font-family="Liberation Sans,Noto Sans CJK KR,sans-serif">S</text>
<path d="M525.25 680l9.25 7v19h-18.5v-19Z" fill="#fff" stroke="#a8372b" stroke-width="1.3" stroke-linejoin="miter"/><text x="525.25" y="702.3" font-size="17" fill="#a8372b" stroke="#a8372b" stroke-width="0.5" text-anchor="middle" font-family="Liberation Sans,Noto Sans CJK KR,sans-serif">B</text>
<path d="M512 710h18.5v19l-9.25 7l-9.25 -7Z" fill="#fff" stroke="#27418a" stroke-width="1.3" stroke-linejoin="miter"/><text x="521.25" y="726.8" font-size="17" fill="#27418a" stroke="#27418a" stroke-width="0.5" text-anchor="middle" font-family="Liberation Sans,Noto Sans CJK KR,sans-serif">S</text>
<path d="M504.3 750h18.5v19l-9.25 7l-9.25 -7Z" fill="#fff" stroke="#27418a" stroke-width="1.3" stroke-linejoin="miter"/><text x="513.55" y="766.8" font-size="17" fill="#27418a" stroke="#27418a" stroke-width="0.5" text-anchor="middle" font-family="Liberation Sans,Noto Sans CJK KR,sans-serif">S</text>
<path d="M516.05 766.5l9.25 7v19h-18.5v-19Z" fill="#fff" stroke="#a8372b" stroke-width="1.3" stroke-linejoin="miter"/><text x="516.05" y="788.8" font-size="17" fill="#a8372b" stroke="#a8372b" stroke-width="0.5" text-anchor="middle" font-family="Liberation Sans,Noto Sans CJK KR,sans-serif">B</text>
<path d="M186.5 836.5h18.5v19l-9.25 7l-9.25 -7Z" fill="#fff" stroke="#27418a" stroke-width="1.3" stroke-linejoin="miter"/><text x="195.75" y="853.3" font-size="17" fill="#27418a" stroke="#27418a" stroke-width="0.5" text-anchor="middle" font-family="Liberation Sans,Noto Sans CJK KR,sans-serif">S</text>
<path d="M566.7 446.5H658.5V496.5H566.7L556.8 469.8Z" fill="#d4392b"/>
<path d="M390.5 441H416" stroke="#a3392b" stroke-width="1.4"/><path d="M414 436L421 441L414 446Z" fill="#a3392b"/>
<path d="M301 918.5H328" stroke="#2d4f92" stroke-width="1.3"/><path d="M322 914.7L329.5 918.5L322 922.3Z" fill="#2d4f92"/>
<rect x="8.2" y="418.6" width="41.3" height="42" rx="8" fill="#f6f6f6" fill-opacity="0.9"/>
<rect x="9" y="887.5" width="41.5" height="43" rx="8" fill="#f5f5f5" fill-opacity="0.9"/>
<g stroke="#8a8a8a" stroke-width="2.7" fill="none"><circle cx="27.1" cy="437.1" r="9.8"/><path d="M34.6 444.6L41.8 451.8" stroke-width="3.1"/><path d="M23.1 437.1H31.1M27.1 433.1V441.1" stroke-width="2.3"/></g>
<path d="M633 961H647L640 951Z" fill="#b0b0b0"/><path d="M633 965H647L640 975Z" fill="#b0b0b0"/>
<rect x="8" y="1013" width="42" height="42" rx="8" fill="#f0f0f0" fill-opacity="0.85"/>
<path d="M19 1022.5L38.5 1042M38.5 1022.5L19 1042" stroke="#8a8a8a" stroke-width="2.2"/>
</svg>
<div class="a" style="left:8px;top:394.8px;font-size:18.5px;height:18.5px;color:#a23c9a;font-weight:700;letter-spacing:0px;">종가 단순</div>

<div class="a" style="left:82.5px;top:394.2px;font-size:19.5px;height:19.5px;color:#a23c9a;font-weight:700;letter-spacing:0px;">5</div>

<div class="a" style="left:100.5px;top:394.2px;font-size:19.5px;height:19.5px;color:#3d8fba;font-weight:400;letter-spacing:0.5px;">10</div>

<div class="a" style="left:127px;top:394.2px;font-size:19.5px;height:19.5px;color:#d2a838;font-weight:400;letter-spacing:0.5px;">20</div>

<div class="a" style="left:153px;top:394.2px;font-size:19.5px;height:19.5px;color:#3c8a3c;font-weight:700;letter-spacing:0px;">60</div>

<div class="a" style="left:181.5px;top:394.2px;font-size:19.5px;height:19.5px;color:#595959;font-weight:400;letter-spacing:0.5px;">120</div>

<div class="a" style="left:9px;top:990.8px;font-size:18.5px;height:18.5px;color:#3d8b8b;font-weight:700;letter-spacing:0px;">거래량</div>

<div class="a" style="left:63px;top:990.8px;font-size:18.5px;height:18.5px;color:#a23c9a;font-weight:700;letter-spacing:0px;">단순</div>

<div class="a" style="left:99px;top:990.2px;font-size:19.5px;height:19.5px;color:#a23c9a;font-weight:700;letter-spacing:0px;">5</div>

<div class="a" style="left:116.5px;top:990.2px;font-size:19.5px;height:19.5px;color:#d2a838;font-weight:400;letter-spacing:0.5px;">20</div>

<div class="a" style="left:143px;top:990.2px;font-size:19.5px;height:19.5px;color:#3c8a3c;font-weight:700;letter-spacing:0px;">60</div>

<div class="a" style="left:170.5px;top:990.2px;font-size:19.5px;height:19.5px;color:#595959;font-weight:400;letter-spacing:0.5px;">120</div>

<div class="a" style="left:561px;top:385.5px;width:94px;height:26px;border:1.3px solid #444;background:#fff"></div>
<div class="a" style="left:408px;width:400px;text-align:center;top:387.5px;font-size:21px;height:21px;color:#111;font-weight:400;-webkit-text-stroke:0.5px #111;">347</div>

<div class="a" style="right:6px;top:427.0px;font-size:21px;height:21px;color:#111;font-weight:400;letter-spacing:0.2px;-webkit-text-stroke:0.7px #111;">69,050</div>

<div class="a" style="right:6px;top:548.5px;font-size:21px;height:21px;color:#111;font-weight:400;letter-spacing:0.2px;-webkit-text-stroke:0.7px #111;">58,300</div>

<div class="a" style="right:6px;top:670.0px;font-size:21px;height:21px;color:#111;font-weight:400;letter-spacing:0.2px;-webkit-text-stroke:0.7px #111;">47,550</div>

<div class="a" style="right:6px;top:791.5px;font-size:21px;height:21px;color:#111;font-weight:400;letter-spacing:0.2px;-webkit-text-stroke:0.7px #111;">36,800</div>

<div class="a" style="right:6px;top:913.5px;font-size:21px;height:21px;color:#111;font-weight:400;letter-spacing:0.2px;-webkit-text-stroke:0.7px #111;">26,050</div>

<div class="a" style="right:7px;top:449.8px;font-size:20.5px;height:20.5px;color:#fff;font-weight:400;-webkit-text-stroke:0.3px #fff;">66,000</div>

<div class="a" style="right:7px;top:474.2px;font-size:20.5px;height:20.5px;color:#fff;font-weight:400;-webkit-text-stroke:0.3px #fff;">29.41%</div>

<div class="a" style="right:5.5px;top:1010.4px;font-size:20.5px;height:20.5px;color:#111;font-weight:400;letter-spacing:0.4px;-webkit-text-stroke:0.3px #111;">12,225K</div>

<div class="a" style="right:5.5px;top:1048.2px;font-size:20.5px;height:20.5px;color:#111;font-weight:400;letter-spacing:0.4px;-webkit-text-stroke:0.3px #111;">9,168K</div>

<div class="a" style="right:5.5px;top:1086.8px;font-size:20.5px;height:20.5px;color:#111;font-weight:400;letter-spacing:0.4px;-webkit-text-stroke:0.3px #111;">6,112K</div>

<div class="a" style="right:5.5px;top:1124.8px;font-size:20.5px;height:20.5px;color:#111;font-weight:400;letter-spacing:0.4px;-webkit-text-stroke:0.3px #111;">3,056K</div>

<div class="a" style="right:5.5px;top:1155.2px;font-size:20.5px;height:20.5px;color:#111;font-weight:400;letter-spacing:0.4px;-webkit-text-stroke:0.3px #111;">0</div>

<svg width="660" height="1339"><path d="M566 1056.3H658.5V1080.8H566L557.5 1068.6Z" fill="#4b999b"/></svg>
<div class="a" style="right:5.5px;top:1059.2px;font-size:20.5px;height:20.5px;color:#fff;font-weight:400;letter-spacing:0.4px;">8,370K</div>

<div class="a" style="left:123.5px;top:431.8px;font-size:19.5px;height:19.5px;color:#a3392b;font-weight:700;">최고 <span style="letter-spacing:1.3px;font-weight:400;-webkit-text-stroke:0.7px #a3392b">69,050(-4.42%,10/29)</span></div>

<div class="a" style="left:21.5px;top:909.8px;font-size:19.5px;height:19.5px;color:#2c4c90;font-weight:700;">최저 <span style="letter-spacing:1.4px;font-weight:400;-webkit-text-stroke:0.7px #2c4c90">26,050(153.36%,08/04)</span></div>

<div class="a" style="left:-61px;width:400px;text-align:center;top:953.2px;font-size:21.5px;height:21.5px;color:#111;font-weight:400;letter-spacing:0.6px;-webkit-text-stroke:0.9px #111;">2025/02/07</div>

<div class="a" style="left:78.5px;width:400px;text-align:center;top:953.2px;font-size:21.5px;height:21.5px;color:#111;font-weight:400;letter-spacing:0.6px;-webkit-text-stroke:0.9px #111;">2025/06/18</div>

<div class="a" style="left:218px;width:400px;text-align:center;top:953.2px;font-size:21.5px;height:21.5px;color:#111;font-weight:400;letter-spacing:0.6px;-webkit-text-stroke:0.9px #111;">2025/10/27</div>

<div class="a" style="left:358px;width:400px;text-align:center;top:953.2px;font-size:21.5px;height:21.5px;color:#111;font-weight:400;letter-spacing:0.6px;-webkit-text-stroke:0.9px #111;">03/05</div>

<svg width="660" height="1339"><g stroke="#8a8a8a" stroke-width="2.5" fill="none" stroke-opacity="0.85"><circle cx="25.4" cy="906.5" r="8.6"/><path d="M31.8 913L37.5 918.7M21.6 906.8H29.4"/></g></svg>
<div class="a" style="left:0;top:1177.5px;width:659px;height:52px;background:#f7f7fa;border-radius:0 9px 0 0;border-bottom:1.3px solid #dedee2;box-shadow:0 -0.5px 1px rgba(0,0,0,0.05)"></div>
<div class="a" style="left:11.4px;top:1186px;width:79.8px;height:35.6px;border-radius:18px;background:linear-gradient(90deg,#5484e0,#6a55d8)"></div>
<svg width="660" height="1339"><circle cx="29.4" cy="1204" r="14.8" fill="#fff"/><path d="M21.2 1207.2L27.1 1202.4L30.5 1205.2L36.4 1199.2" stroke="#4b78cf" stroke-width="2.8" fill="none" stroke-linecap="round" stroke-linejoin="round"/><path d="M32.4 1198.5H36.9V1202.6" stroke="#4b78cf" stroke-width="2.8" fill="none" stroke-linecap="round" stroke-linejoin="round"/></svg>
<div class="a" style="left:51.5px;top:1196.5px;font-size:15px;height:15px;color:#fff;font-weight:700;">지수</div>
<div class="a" style="left:104.5px;top:1193.5px;font-size:21px;height:21px;color:#222;font-weight:500;">코스닥</div>
<div class="a" style="right:267.5px;top:1193.0px;font-size:22px;height:22px;color:#a8436c;font-weight:400;letter-spacing:0.5px;">1,113.92</div>
<svg width="660" height="1339"><path d="M431 1208L435.8 1200.5L440.6 1208Z" fill="#a8436c"/></svg>
<div class="a" style="left:453.5px;top:1193.0px;font-size:22px;height:22px;color:#a8436c;font-weight:400;letter-spacing:0.5px;">135.48</div>
<div class="a" style="right:20px;top:1192.5px;font-size:22px;height:22px;color:#a8436c;font-weight:400;">13.85%</div>
<div class="a" style="left:11.5px;top:1241px;width:87px;height:87px;border-radius:9px;background:#a8436a"></div>
<svg width="660" height="1339"><g stroke="#fff" stroke-width="3" stroke-linecap="round"><path d="M38 1260.5H71.6M38 1272.5H71.6M38 1284.2H71.6"/></g></svg>
<div class="a" style="left:-143.5px;width:400px;text-align:center;top:1294.5px;font-size:16px;height:16px;color:#fff;font-weight:700;letter-spacing:3.5px;">메뉴</div>
<div class="a" style="left:144px;top:1275.0px;font-size:23px;height:23px;color:#222;font-weight:700;letter-spacing:2.2px;">자동일지</div>
<div class="a" style="left:277.5px;top:1276.0px;font-size:22px;height:22px;color:#8d8d8d;font-weight:500;letter-spacing:1.6px;"><span style="-webkit-text-stroke:0.5px #8d8d8d">ETF</span>분석</div>
<div class="a" style="left:411.5px;top:1276.0px;font-size:22px;height:22px;color:#8d8d8d;font-weight:500;letter-spacing:2.4px;">캐치(모의)</div>
<div class="a" style="left:566px;top:1270px;width:94px;height:32px;overflow:hidden;-webkit-mask-image:linear-gradient(90deg,#000 78%,transparent 100%);"><div class="a" style="left:0;top:5.5px;font-size:22px;color:#8d8d8d;font-weight:500;letter-spacing:2.4px;">캐치(실감)</div></div>
</body></html>
